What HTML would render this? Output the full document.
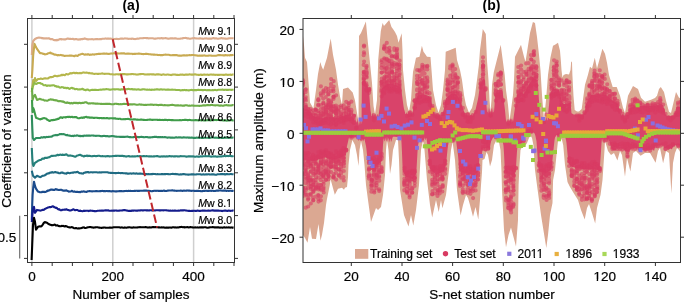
<!DOCTYPE html>
<html><head><meta charset="utf-8"><style>
html,body{margin:0;padding:0;background:#fff;}
svg{display:block;font-family:"Liberation Sans",sans-serif;will-change:transform;} text{stroke:#000;stroke-width:0.2px;} text[font-weight=bold]{stroke:none;}
</style></head><body>
<svg width="685" height="302" viewBox="0 0 685 302" font-family="Liberation Sans, sans-serif" fill="#000">
<line x1="31.9" y1="18.5" x2="31.9" y2="262.5" stroke="#cfcfcf" stroke-width="1.5"/>
<line x1="112.8" y1="18.5" x2="112.8" y2="262.5" stroke="#cfcfcf" stroke-width="1.5"/>
<line x1="193.6" y1="18.5" x2="193.6" y2="262.5" stroke="#cfcfcf" stroke-width="1.5"/>
<polyline points="31.8,55 32.3,45 33.2,41 35,39 37,38 39,37.5 40,37.7 40.8,37.7 41.6,38.2 42.4,38.1 43.2,38.4 44,38.4 44.8,38.2 45.6,38.5 46.4,38.3 47.2,38.5 48,38.4 48.8,38.3 49.6,38.6 50.4,39.3 51.2,39 52,39 52.8,39.4 53.6,40 54.4,40.1 55.2,40 56,40.4 56.8,39.8 57.6,40.2 58.4,39.8 59.2,39.4 60,39.1 60.8,39 61.6,39.5 62.4,39.2 63.2,39.3 64,39.5 64.8,39.3 65.6,39.4 66.4,39 67.2,38.6 68,38.5 68.8,38.9 69.6,38.9 70.4,38.8 71.2,39 72,39 72.8,38.8 73.6,39.2 74.4,39.4 75.2,39 76,39.1 76.8,39.1 77.6,39.5 78.4,39.6 79.2,39.2 80,39.6 80.8,39.1 81.6,39 82.4,39.2 83.2,38.8 84,38.9 84.8,38.4 85.6,38.7 86.4,39.1 87.2,39.1 88,39.5 88.8,39.2 89.6,39.3 90.4,39.3 91.2,39.2 92,39.1 92.8,39.2 93.6,39.4 94.4,39.2 95.2,39.2 96,39 96.8,39.1 97.6,39.1 98.4,39.3 99.2,39.3 100,39.1 100.8,39 101.6,39.1 102.4,38.8 103.2,38.8 104,38.7 104.8,38.6 105.6,38.4 106.4,38.7 107.2,38.6 108,38.5 108.8,38.6 109.6,38.8 110.4,38.6 111.2,38.7 112,38.7 112.8,38.9 113.6,39 114.4,39.1 115.2,39 116,38.9 116.8,38.8 117.6,39 118.4,39.1 119.2,38.9 120,38.7 120.8,38.6 121.6,38.5 122.4,38.6 123.2,38.7 124,38.6 124.8,38.4 125.6,38.5 126.4,38.5 127.2,38.6 128,38.8 128.8,38.9 129.6,38.8 130.4,38.8 131.2,38.9 132,38.6 132.8,38.8 133.6,38.9 134.4,39 135.2,39.1 136,38.9 136.8,38.8 137.6,38.6 138.4,38.7 139.2,38.5 140,38.3 140.8,38.3 141.6,38.2 142.4,38.2 143.2,38.1 144,38 144.8,38 145.6,38 146.4,38.1 147.2,38 148,38.3 148.8,38.4 149.6,38.3 150.4,38.2 151.2,38.3 152,38.3 152.8,38.2 153.6,38.4 154.4,38.7 155.2,38.6 156,38.6 156.8,38.4 157.6,38.2 158.4,38.2 159.2,38.2 160,38.4 160.8,38.3 161.6,38.1 162.4,38.4 163.2,38.4 164,38.3 164.8,38.3 165.6,38.1 166.4,38.2 167.2,38.5 168,38.6 168.8,38.7 169.6,38.5 170.4,38.4 171.2,38.3 172,38.4 172.8,38.4 173.6,38.5 174.4,38.4 175.2,38.3 176,38.4 176.8,38.6 177.6,38.7 178.4,38.7 179.2,38.8 180,38.8 180.8,38.5 181.6,38.5 182.4,38.4 183.2,38.1 184,38 184.8,38 185.6,37.9 186.4,38.1 187.2,38.4 188,38.3 188.8,38.5 189.6,38.7 190.4,38.8 191.2,38.6 192,38.4 192.8,38.3 193.6,38.2 194.4,38.1 195.2,38.2 196,38.4 196.8,38.5 197.6,38.5 198.4,38.5 199.2,38.6 200,38.3 200.8,38.4 201.6,38.6 202.4,38.6 203.2,38.7 204,38.6 204.8,38.4 205.6,38.5 206.4,38.4 207.2,38.5 208,38.7 208.8,38.6 209.6,38.5 210.4,38.6 211.2,38.7 212,38.4 212.8,38.3 213.6,38.1 214.4,38.4 215.2,38.5 216,38.3 216.8,38.5 217.6,38.7 218.4,38.7 219.2,38.5 220,38.5 220.8,38.3 221.6,38.1 222.4,38.4 223.2,38.5 224,38.4 224.8,38.6 225.6,38.5 226.4,38.7 227.2,38.7 228,38.5 228.8,38.4 229.6,38.3 230.4,38.2 231.2,38.3 232,38.2 232.8,38.2 233.6,38.1" fill="none" stroke="#dcab8c" stroke-width="2.1" stroke-linejoin="round"/>
<polyline points="31.8,78 32.4,70 33.2,55 34.5,43.9 35.5,46 37,48.9 40,53.2 40.8,53.1 41.6,53.2 42.4,53.4 43.2,54 44,53.9 44.8,54.4 45.6,54.2 46.4,54.1 47.2,53.9 48,53.3 48.8,53.3 49.6,52.9 50.4,52.6 51.2,53.4 52,53.4 52.8,53.7 53.6,54.3 54.4,54.6 55.2,54.6 56,54.8 56.8,55 57.6,55.4 58.4,55 59.2,55.2 60,55.1 60.8,54.9 61.6,55.3 62.4,55.4 63.2,55.4 64,55.7 64.8,56 65.6,55.8 66.4,55.8 67.2,55.7 68,55.7 68.8,55.8 69.6,55.6 70.4,55.6 71.2,55.5 72,55.8 72.8,55.8 73.6,56 74.4,56.2 75.2,55.6 76,55.5 76.8,55.8 77.6,55.9 78.4,55.2 79.2,54.7 80,54.7 80.8,54.2 81.6,54 82.4,53.7 83.2,54.1 84,54.4 84.8,54.8 85.6,54.3 86.4,54.5 87.2,54.6 88,54.1 88.8,54.5 89.6,54.9 90.4,54.6 91.2,54.7 92,54.5 92.8,54.4 93.6,54.5 94.4,54.6 95.2,54.3 96,54.2 96.8,54.1 97.6,54 98.4,53.9 99.2,53.8 100,53.9 100.8,53.7 101.6,53.8 102.4,53.8 103.2,53.6 104,53.5 104.8,53.6 105.6,53.7 106.4,53.5 107.2,53.8 108,53.9 108.8,54 109.6,53.7 110.4,53.6 111.2,53.4 112,53.6 112.8,53.5 113.6,53.3 114.4,53.3 115.2,53.5 116,53.7 116.8,53.5 117.6,53.3 118.4,53.5 119.2,53.5 120,53.5 120.8,53.4 121.6,53.2 122.4,53.4 123.2,53.4 124,53.3 124.8,53.6 125.6,53.7 126.4,53.8 127.2,53.6 128,53.8 128.8,53.6 129.6,53.8 130.4,53.8 131.2,53.8 132,53.8 132.8,54.1 133.6,53.9 134.4,53.8 135.2,53.9 136,53.8 136.8,53.7 137.6,53.7 138.4,53.6 139.2,53.6 140,53.7 140.8,53.7 141.6,54 142.4,54 143.2,54.1 144,54 144.8,54 145.6,53.9 146.4,53.9 147.2,53.9 148,54.1 148.8,54.3 149.6,54.2 150.4,54.3 151.2,54.6 152,54.4 152.8,54.6 153.6,54.6 154.4,54.6 155.2,54.8 156,54.7 156.8,54.8 157.6,54.9 158.4,55.1 159.2,54.9 160,55.1 160.8,55.1 161.6,55.1 162.4,55.1 163.2,55 164,54.8 164.8,54.7 165.6,54.6 166.4,54.8 167.2,54.8 168,54.7 168.8,54.7 169.6,54.9 170.4,55.2 171.2,55.3 172,55.2 172.8,55.1 173.6,55.1 174.4,55.1 175.2,55 176,55.1 176.8,55.1 177.6,55.4 178.4,55.6 179.2,55.6 180,55.5 180.8,55.7 181.6,55.6 182.4,55.5 183.2,55.3 184,55.4 184.8,55.4 185.6,55.5 186.4,55.4 187.2,55.4 188,55.2 188.8,55.2 189.6,55.1 190.4,55.2 191.2,55.1 192,55 192.8,55 193.6,55 194.4,55.2 195.2,55.3 196,55.4 196.8,55.5 197.6,55.6 198.4,55.7 199.2,55.6 200,55.5 200.8,55.7 201.6,55.5 202.4,55.6 203.2,55.6 204,55.4 204.8,55.5 205.6,55.7 206.4,55.7 207.2,55.7 208,55.8 208.8,55.5 209.6,55.5 210.4,55.5 211.2,55.6 212,55.7 212.8,55.7 213.6,55.7 214.4,55.8 215.2,55.7 216,55.7 216.8,55.5 217.6,55.2 218.4,55.1 219.2,55.1 220,55 220.8,55.2 221.6,55.2 222.4,55.3 223.2,55.4 224,55.4 224.8,55.4 225.6,55.1 226.4,55.3 227.2,55.4 228,55.3 228.8,55.3 229.6,55.4 230.4,55.1 231.2,55.3 232,55.1 232.8,55 233.6,54.9" fill="none" stroke="#c8aa52" stroke-width="2.1" stroke-linejoin="round"/>
<polyline points="31.8,92 32.5,86 33.2,80 34,82 35,78 36,81 38,79 40,78.9 40.8,78.5 41.6,78.7 42.4,79 43.2,78.8 44,78.5 44.8,78.4 45.6,78.4 46.4,78.5 47.2,78.5 48,78.4 48.8,77.8 49.6,77.4 50.4,77.1 51.2,77.3 52,77 52.8,77 53.6,76.4 54.4,75.9 55.2,75.8 56,76 56.8,76.2 57.6,76.2 58.4,75.8 59.2,75.7 60,75.6 60.8,75.4 61.6,74.8 62.4,75.2 63.2,74.7 64,75 64.8,75.2 65.6,74.4 66.4,74.1 67.2,74.3 68,74.5 68.8,74.1 69.6,73.5 70.4,73.1 71.2,73.5 72,73.1 72.8,73.2 73.6,72.7 74.4,72.8 75.2,73.3 76,72.8 76.8,73.1 77.6,73 78.4,73.3 79.2,73.3 80,72.9 80.8,73.3 81.6,73.2 82.4,72.7 83.2,72.4 84,72.6 84.8,72.8 85.6,72.8 86.4,72.6 87.2,72.7 88,72.8 88.8,73.3 89.6,72.9 90.4,73.2 91.2,73.4 92,73.3 92.8,73.6 93.6,73.7 94.4,73.9 95.2,73.7 96,73.7 96.8,73.7 97.6,73.9 98.4,73.9 99.2,73.8 100,73.8 100.8,73.7 101.6,73.5 102.4,73.4 103.2,73.7 104,73.7 104.8,73.9 105.6,73.8 106.4,73.7 107.2,73.8 108,73.7 108.8,73.7 109.6,74 110.4,74.2 111.2,74.3 112,74.3 112.8,74.4 113.6,74.5 114.4,74.5 115.2,74.5 116,74.2 116.8,74.3 117.6,74.3 118.4,74.4 119.2,74.4 120,74.3 120.8,74.1 121.6,74.3 122.4,74.1 123.2,74.1 124,74.1 124.8,74.1 125.6,74.2 126.4,74.4 127.2,74.3 128,74.4 128.8,74.3 129.6,74.3 130.4,74.3 131.2,74.1 132,74 132.8,74 133.6,74.3 134.4,74.3 135.2,74.2 136,74.4 136.8,74.6 137.6,74.5 138.4,74.4 139.2,74.2 140,74.1 140.8,74.1 141.6,74 142.4,74 143.2,74 144,74.2 144.8,74.4 145.6,74.5 146.4,74.5 147.2,74.4 148,74.5 148.8,74.4 149.6,74.4 150.4,74.2 151.2,74.2 152,74.5 152.8,74.3 153.6,74.4 154.4,74.5 155.2,74.7 156,74.5 156.8,74.4 157.6,74.3 158.4,74.4 159.2,74.4 160,74.6 160.8,74.8 161.6,74.9 162.4,74.6 163.2,74.4 164,74.5 164.8,74.7 165.6,74.7 166.4,74.7 167.2,74.5 168,74.5 168.8,74.7 169.6,74.8 170.4,74.9 171.2,75.1 172,74.8 172.8,74.6 173.6,74.5 174.4,74.5 175.2,74.6 176,74.8 176.8,74.9 177.6,74.9 178.4,75 179.2,74.9 180,74.8 180.8,74.6 181.6,74.8 182.4,74.6 183.2,74.8 184,74.9 184.8,74.7 185.6,74.6 186.4,74.5 187.2,74.6 188,74.7 188.8,74.5 189.6,74.4 190.4,74.5 191.2,74.6 192,74.6 192.8,74.5 193.6,74.6 194.4,74.4 195.2,74.4 196,74.5 196.8,74.7 197.6,74.8 198.4,74.9 199.2,74.9 200,74.7 200.8,74.6 201.6,74.9 202.4,74.9 203.2,74.8 204,74.6 204.8,74.6 205.6,74.7 206.4,74.7 207.2,74.6 208,74.7 208.8,74.9 209.6,74.8 210.4,74.5 211.2,74.5 212,74.6 212.8,74.7 213.6,74.6 214.4,74.8 215.2,74.9 216,74.8 216.8,74.7 217.6,74.9 218.4,74.8 219.2,74.9 220,74.8 220.8,74.7 221.6,74.8 222.4,74.7 223.2,74.9 224,74.9 224.8,74.7 225.6,74.6 226.4,74.6 227.2,74.7 228,74.9 228.8,74.8 229.6,74.7 230.4,74.6 231.2,74.9 232,74.7 232.8,74.5 233.6,74.4" fill="none" stroke="#b6b64c" stroke-width="2.1" stroke-linejoin="round"/>
<polyline points="32,90 33,86 34.5,82.7 36,84 38,83 40,83 40.8,83.5 41.6,83.8 42.4,84.1 43.2,84.8 44,85.3 44.8,85.2 45.6,85.1 46.4,85.7 47.2,85.9 48,85.4 48.8,85.6 49.6,85.6 50.4,85.6 51.2,85.5 52,85.4 52.8,85.2 53.6,85.3 54.4,85.5 55.2,86.3 56,86.1 56.8,86.8 57.6,86.6 58.4,86.6 59.2,87.2 60,87.6 60.8,87.5 61.6,87.1 62.4,87.3 63.2,87.3 64,88 64.8,87.7 65.6,87.7 66.4,88.3 67.2,87.9 68,88 68.8,88.5 69.6,88.9 70.4,88.4 71.2,88 72,87.8 72.8,88.5 73.6,88.4 74.4,88.8 75.2,89.3 76,89.1 76.8,88.9 77.6,89.4 78.4,89.5 79.2,89.3 80,89.5 80.8,89.3 81.6,89.2 82.4,88.8 83.2,89.2 84,89.8 84.8,89.9 85.6,90.3 86.4,89.7 87.2,89.5 88,89.6 88.8,90.1 89.6,90.5 90.4,90.2 91.2,90 92,89.9 92.8,89.8 93.6,90 94.4,89.8 95.2,89.9 96,89.9 96.8,90 97.6,90 98.4,90 99.2,89.8 100,89.7 100.8,89.6 101.6,89.7 102.4,89.5 103.2,89.4 104,89.5 104.8,89.4 105.6,89.2 106.4,89.1 107.2,89.2 108,89.2 108.8,89.5 109.6,89.6 110.4,89.8 111.2,89.6 112,89.4 112.8,89.2 113.6,89.3 114.4,89.4 115.2,89.4 116,89.2 116.8,89.2 117.6,89.3 118.4,89.4 119.2,89.5 120,89.6 120.8,89.6 121.6,89.3 122.4,89.5 123.2,89.3 124,89.3 124.8,89.3 125.6,89.4 126.4,89.2 127.2,89.1 128,89 128.8,88.9 129.6,89.1 130.4,89.2 131.2,89.1 132,89.1 132.8,89.4 133.6,89.4 134.4,89.2 135.2,89.4 136,89.5 136.8,89.6 137.6,89.4 138.4,89.4 139.2,89.5 140,89.7 140.8,89.8 141.6,89.5 142.4,89.4 143.2,89.3 144,89.2 144.8,89.5 145.6,89.5 146.4,89.7 147.2,89.6 148,89.8 148.8,89.7 149.6,89.6 150.4,89.7 151.2,89.9 152,89.6 152.8,89.7 153.6,89.7 154.4,89.6 155.2,89.6 156,89.4 156.8,89.4 157.6,89.4 158.4,89.5 159.2,89.6 160,89.5 160.8,89.4 161.6,89.4 162.4,89.6 163.2,89.5 164,89.5 164.8,89.5 165.6,89.7 166.4,89.8 167.2,89.6 168,89.5 168.8,89.6 169.6,89.7 170.4,89.8 171.2,89.7 172,89.6 172.8,89.8 173.6,89.8 174.4,89.8 175.2,89.8 176,90 176.8,90 177.6,90 178.4,90 179.2,90 180,90.2 180.8,90.4 181.6,90.3 182.4,90.1 183.2,90.3 184,90.1 184.8,89.9 185.6,90.2 186.4,90.1 187.2,90.3 188,90.2 188.8,90.4 189.6,90.3 190.4,90.1 191.2,89.9 192,90 192.8,90.1 193.6,90.3 194.4,90 195.2,90.1 196,90 196.8,90.1 197.6,89.9 198.4,89.9 199.2,89.9 200,90.1 200.8,89.9 201.6,90 202.4,90.1 203.2,90.3 204,90.1 204.8,89.9 205.6,90.1 206.4,90.3 207.2,90.2 208,90 208.8,90.2 209.6,90.1 210.4,90.2 211.2,90.2 212,90.3 212.8,90.1 213.6,90.2 214.4,90 215.2,89.9 216,90.1 216.8,90.2 217.6,90 218.4,89.8 219.2,89.8 220,89.8 220.8,89.8 221.6,89.7 222.4,89.6 223.2,89.8 224,90 224.8,89.7 225.6,89.8 226.4,89.9 227.2,89.7 228,89.9 228.8,89.7 229.6,89.8 230.4,89.8 231.2,89.9 232,89.8 232.8,89.7 233.6,89.8" fill="none" stroke="#92ba4a" stroke-width="2.1" stroke-linejoin="round"/>
<polyline points="32,88 32.6,100 33.5,97 35,94.9 37,99.9 40,98.8 40.8,99.3 41.6,99.6 42.4,99.8 43.2,99.7 44,100.2 44.8,100.6 45.6,100.4 46.4,100.6 47.2,100.7 48,100.4 48.8,99.9 49.6,99.8 50.4,99.4 51.2,99.4 52,99.7 52.8,99.6 53.6,99.9 54.4,100.2 55.2,100.1 56,100.5 56.8,100.3 57.6,100.8 58.4,101.2 59.2,101.3 60,101 60.8,101.2 61.6,101.2 62.4,101.8 63.2,101.5 64,102 64.8,102.5 65.6,102.7 66.4,102.9 67.2,102.4 68,102.9 68.8,102.8 69.6,103.2 70.4,103.4 71.2,102.9 72,103.2 72.8,103.5 73.6,102.9 74.4,102.8 75.2,103.1 76,102.7 76.8,103.2 77.6,102.9 78.4,103.2 79.2,102.8 80,102.9 80.8,103.3 81.6,103 82.4,102.8 83.2,102.9 84,102.8 84.8,102.4 85.6,102.3 86.4,102.2 87.2,102.9 88,103.2 88.8,103.6 89.6,103.2 90.4,103.4 91.2,103.2 92,103.3 92.8,103.4 93.6,103.3 94.4,103.5 95.2,103.6 96,103.6 96.8,103.8 97.6,103.6 98.4,103.8 99.2,103.8 100,103.7 100.8,103.9 101.6,103.7 102.4,104 103.2,104 104,103.9 104.8,104 105.6,103.9 106.4,103.8 107.2,103.9 108,103.7 108.8,103.9 109.6,103.9 110.4,104 111.2,104.2 112,104.2 112.8,104.3 113.6,104.2 114.4,103.9 115.2,103.8 116,103.8 116.8,103.9 117.6,104 118.4,104.1 119.2,104.3 120,104.2 120.8,104.1 121.6,104.2 122.4,104.1 123.2,103.9 124,104 124.8,103.9 125.6,104 126.4,104 127.2,104.1 128,104.3 128.8,104.2 129.6,104.3 130.4,104.4 131.2,104.3 132,104.5 132.8,104.4 133.6,104.3 134.4,104.2 135.2,104.4 136,104.6 136.8,104.7 137.6,104.7 138.4,104.6 139.2,104.4 140,104.5 140.8,104.6 141.6,104.6 142.4,104.7 143.2,104.7 144,104.9 144.8,105 145.6,104.8 146.4,105 147.2,104.8 148,104.8 148.8,104.8 149.6,104.7 150.4,104.6 151.2,104.8 152,104.6 152.8,104.7 153.6,105 154.4,104.8 155.2,104.7 156,104.8 156.8,104.9 157.6,105 158.4,105.1 159.2,105 160,104.9 160.8,104.9 161.6,104.7 162.4,105 163.2,105.2 164,105.3 164.8,105 165.6,105.2 166.4,105.3 167.2,105.3 168,105.4 168.8,105.3 169.6,105.2 170.4,105 171.2,105 172,104.9 172.8,104.9 173.6,105.1 174.4,105.3 175.2,105.4 176,105.5 176.8,105.4 177.6,105.4 178.4,105.4 179.2,105.5 180,105.5 180.8,105.4 181.6,105.5 182.4,105.7 183.2,105.5 184,105.7 184.8,105.4 185.6,105.3 186.4,105.3 187.2,105.4 188,105.6 188.8,105.7 189.6,105.6 190.4,105.7 191.2,105.6 192,105.4 192.8,105.6 193.6,105.6 194.4,105.7 195.2,105.7 196,105.8 196.8,105.7 197.6,105.8 198.4,105.8 199.2,105.9 200,105.7 200.8,105.8 201.6,105.7 202.4,105.5 203.2,105.4 204,105.4 204.8,105.3 205.6,105.5 206.4,105.3 207.2,105.1 208,105 208.8,105.3 209.6,105.3 210.4,105.1 211.2,105 212,104.9 212.8,105.1 213.6,105.2 214.4,105.3 215.2,105.5 216,105.2 216.8,105.3 217.6,105.3 218.4,105.4 219.2,105.5 220,105.7 220.8,105.4 221.6,105.5 222.4,105.7 223.2,105.8 224,105.5 224.8,105.3 225.6,105.2 226.4,105 227.2,105.2 228,105.4 228.8,105.4 229.6,105.5 230.4,105.5 231.2,105.4 232,105.2 232.8,105 233.6,105.2" fill="none" stroke="#6cac48" stroke-width="2.1" stroke-linejoin="round"/>
<polyline points="32,100 32.5,112 33.2,108 34,110 36,117.8 40,119.4 40.8,119.1 41.6,119 42.4,118.5 43.2,118.2 44,118.1 44.8,118.3 45.6,118.5 46.4,118.8 47.2,119.7 48,120 48.8,120.6 49.6,121 50.4,120.5 51.2,120.3 52,120.1 52.8,120.3 53.6,119.9 54.4,120 55.2,119.8 56,119.3 56.8,119.4 57.6,118.8 58.4,118.9 59.2,118.3 60,117.7 60.8,117.3 61.6,117.6 62.4,118 63.2,117.3 64,117.3 64.8,117.3 65.6,117.5 66.4,117 67.2,117 68,116.8 68.8,117.1 69.6,116.7 70.4,117.2 71.2,117 72,116.8 72.8,117.2 73.6,117.3 74.4,117 75.2,117.3 76,117 76.8,117.5 77.6,117.9 78.4,118.2 79.2,118.2 80,117.9 80.8,117.7 81.6,117.6 82.4,117.9 83.2,117.4 84,117.8 84.8,117.2 85.6,117 86.4,116.8 87.2,117.4 88,117.4 88.8,117.3 89.6,117.7 90.4,117.6 91.2,117.6 92,117.6 92.8,117.8 93.6,117.9 94.4,117.9 95.2,117.8 96,117.8 96.8,117.7 97.6,117.9 98.4,118 99.2,118.1 100,118 100.8,118 101.6,118.1 102.4,118.2 103.2,118 104,118.1 104.8,118.3 105.6,118.2 106.4,118.1 107.2,118.1 108,118.3 108.8,118.5 109.6,118.4 110.4,118.3 111.2,118.2 112,118.3 112.8,118.4 113.6,118.3 114.4,118.4 115.2,118.3 116,118.7 116.8,118.8 117.6,118.7 118.4,119 119.2,118.8 120,118.8 120.8,119.1 121.6,119.2 122.4,119.3 123.2,119.2 124,119.1 124.8,119.2 125.6,119.1 126.4,119 127.2,119 128,118.9 128.8,119 129.6,119.3 130.4,119.4 131.2,119.4 132,119.5 132.8,119.5 133.6,119.3 134.4,119.4 135.2,119.4 136,119.5 136.8,119.7 137.6,119.6 138.4,119.7 139.2,119.7 140,119.7 140.8,119.5 141.6,119.6 142.4,119.8 143.2,119.9 144,119.9 144.8,120 145.6,120 146.4,120 147.2,119.9 148,119.8 148.8,119.8 149.6,119.6 150.4,119.6 151.2,119.8 152,119.9 152.8,119.9 153.6,119.8 154.4,119.7 155.2,119.7 156,119.8 156.8,119.8 157.6,119.9 158.4,120 159.2,119.9 160,119.9 160.8,120 161.6,120 162.4,119.9 163.2,120.1 164,119.9 164.8,119.9 165.6,119.8 166.4,119.9 167.2,120.1 168,120.1 168.8,119.9 169.6,120 170.4,120 171.2,120.1 172,120.1 172.8,120.1 173.6,120.3 174.4,120.2 175.2,120.2 176,120.3 176.8,120.2 177.6,120.2 178.4,120.2 179.2,120.3 180,120.1 180.8,120.3 181.6,120.2 182.4,120 183.2,120 184,120 184.8,119.8 185.6,119.9 186.4,119.9 187.2,120.1 188,120.1 188.8,120 189.6,119.9 190.4,120.1 191.2,120.3 192,120.3 192.8,120.2 193.6,120.3 194.4,120.2 195.2,120.1 196,120 196.8,120.2 197.6,120.3 198.4,120.4 199.2,120.3 200,120.3 200.8,120.2 201.6,120.4 202.4,120.3 203.2,120.3 204,120.5 204.8,120.5 205.6,120.5 206.4,120.3 207.2,120.3 208,120.1 208.8,120.3 209.6,120.2 210.4,120.4 211.2,120.3 212,120.2 212.8,120.1 213.6,120.1 214.4,120 215.2,119.9 216,120.1 216.8,120 217.6,120 218.4,120 219.2,120 220,120.1 220.8,120.2 221.6,120.3 222.4,120.2 223.2,120.4 224,120.5 224.8,120.3 225.6,120.4 226.4,120.6 227.2,120.6 228,120.4 228.8,120.5 229.6,120.5 230.4,120.2 231.2,120 232,120.3 232.8,120.4 233.6,120.2" fill="none" stroke="#3f9c4a" stroke-width="2.1" stroke-linejoin="round"/>
<polyline points="31.8,115 32.3,128 32.8,138 34,140 36,138 40,138 40.8,137.6 41.6,137.3 42.4,137.6 43.2,137.4 44,137 44.8,137.4 45.6,137.5 46.4,136.9 47.2,137.1 48,136.9 48.8,136.9 49.6,136.7 50.4,136.7 51.2,136.6 52,136.5 52.8,135.7 53.6,135.5 54.4,135.2 55.2,135.2 56,134.9 56.8,135.2 57.6,135.1 58.4,134.7 59.2,134.4 60,134 60.8,134.2 61.6,134 62.4,134.2 63.2,134.1 64,134.3 64.8,134.6 65.6,134.8 66.4,135.3 67.2,134.9 68,135.4 68.8,135.5 69.6,135.6 70.4,135.8 71.2,136.1 72,135.9 72.8,135.7 73.6,136.1 74.4,135.6 75.2,135.7 76,135.8 76.8,135.3 77.6,135.5 78.4,135.7 79.2,136.1 80,135.8 80.8,136.2 81.6,136 82.4,135.9 83.2,136.2 84,135.5 84.8,135.7 85.6,135.8 86.4,135.5 87.2,135.8 88,135.6 88.8,135.5 89.6,135.6 90.4,135.7 91.2,135.5 92,135.5 92.8,135.5 93.6,135.6 94.4,135.8 95.2,135.7 96,135.9 96.8,135.8 97.6,135.8 98.4,135.7 99.2,135.8 100,136 100.8,136.1 101.6,136.2 102.4,136.1 103.2,136 104,135.9 104.8,136 105.6,136.1 106.4,136.3 107.2,136 108,136.2 108.8,136.4 109.6,136.4 110.4,136.2 111.2,136.1 112,136 112.8,136 113.6,136.3 114.4,136.4 115.2,136.5 116,136.6 116.8,136.8 117.6,136.8 118.4,136.8 119.2,136.8 120,136.9 120.8,136.9 121.6,136.9 122.4,136.8 123.2,136.9 124,136.8 124.8,137 125.6,136.8 126.4,136.7 127.2,136.6 128,136.8 128.8,137 129.6,137.1 130.4,137 131.2,137.2 132,137.3 132.8,137.2 133.6,137.1 134.4,137 135.2,137 136,136.9 136.8,136.9 137.6,137 138.4,137.3 139.2,137 140,137.1 140.8,136.9 141.6,136.8 142.4,137 143.2,137.1 144,137.3 144.8,137.2 145.6,137 146.4,137 147.2,137.1 148,137.3 148.8,137.5 149.6,137.4 150.4,137.4 151.2,137.2 152,137.2 152.8,137.1 153.6,137 154.4,136.9 155.2,136.8 156,137 156.8,136.9 157.6,137.2 158.4,137.1 159.2,137.3 160,137.1 160.8,137 161.6,137.2 162.4,137.1 163.2,137.3 164,137.2 164.8,137 165.6,137.3 166.4,137.4 167.2,137.6 168,137.6 168.8,137.4 169.6,137.5 170.4,137.6 171.2,137.5 172,137.7 172.8,137.5 173.6,137.7 174.4,137.8 175.2,137.5 176,137.3 176.8,137.4 177.6,137.6 178.4,137.4 179.2,137.4 180,137.5 180.8,137.4 181.6,137.6 182.4,137.6 183.2,137.4 184,137.4 184.8,137.5 185.6,137.5 186.4,137.6 187.2,137.4 188,137.6 188.8,137.5 189.6,137.6 190.4,137.7 191.2,137.6 192,137.6 192.8,137.7 193.6,137.9 194.4,137.9 195.2,137.9 196,137.7 196.8,137.5 197.6,137.7 198.4,137.8 199.2,137.9 200,137.7 200.8,137.8 201.6,137.9 202.4,138 203.2,137.9 204,137.8 204.8,137.7 205.6,137.8 206.4,137.7 207.2,137.8 208,137.8 208.8,137.9 209.6,138 210.4,137.8 211.2,137.5 212,137.4 212.8,137.4 213.6,137.5 214.4,137.7 215.2,137.8 216,137.6 216.8,137.7 217.6,137.8 218.4,137.9 219.2,137.9 220,137.7 220.8,137.8 221.6,137.9 222.4,137.9 223.2,138 224,137.8 224.8,137.6 225.6,137.6 226.4,137.8 227.2,137.6 228,137.7 228.8,137.9 229.6,137.7 230.4,137.7 231.2,137.8 232,137.7 232.8,137.5 233.6,137.5" fill="none" stroke="#2f8e5e" stroke-width="2.1" stroke-linejoin="round"/>
<polyline points="31.8,148 32.3,158 32.8,164 33.4,166 35,162.8 38,160.8 40,160.1 40.8,159.9 41.6,159.3 42.4,158.5 43.2,158.6 44,158.6 44.8,157.9 45.6,157.8 46.4,157.9 47.2,157.9 48,157.5 48.8,157.2 49.6,157.1 50.4,156.5 51.2,156.1 52,155.8 52.8,156 53.6,155.8 54.4,155.8 55.2,155.7 56,155.6 56.8,155.2 57.6,154.7 58.4,155.3 59.2,155.1 60,154.6 60.8,154.8 61.6,155 62.4,154.6 63.2,154.9 64,154.8 64.8,154.9 65.6,154.6 66.4,154.3 67.2,155.1 68,155.6 68.8,155.6 69.6,155.6 70.4,155.4 71.2,155.7 72,155.7 72.8,156.1 73.6,156.3 74.4,156.5 75.2,156.8 76,156.3 76.8,155.7 77.6,155.5 78.4,155.3 79.2,155 80,154.8 80.8,155.1 81.6,155.7 82.4,155.7 83.2,156.2 84,156.5 84.8,155.9 85.6,156 86.4,155.9 87.2,155.5 88,156.1 88.8,155.8 89.6,155.9 90.4,156 91.2,156.2 92,156.2 92.8,156.1 93.6,156 94.4,155.9 95.2,156.1 96,156.3 96.8,156.1 97.6,155.9 98.4,155.8 99.2,155.8 100,156 100.8,156.2 101.6,156.3 102.4,156.1 103.2,156.2 104,156.3 104.8,156.3 105.6,156.4 106.4,156.2 107.2,156 108,156.1 108.8,156.3 109.6,156.4 110.4,156.2 111.2,156.2 112,156.3 112.8,156.1 113.6,156 114.4,156 115.2,155.9 116,155.9 116.8,155.9 117.6,155.8 118.4,155.8 119.2,156 120,155.8 120.8,156 121.6,155.9 122.4,155.8 123.2,156.1 124,156 124.8,156.3 125.6,156.4 126.4,156.6 127.2,156.3 128,156.3 128.8,156.1 129.6,156.4 130.4,156.5 131.2,156.5 132,156.4 132.8,156.3 133.6,156.5 134.4,156.4 135.2,156.5 136,156.3 136.8,156.2 137.6,156 138.4,156.2 139.2,156.3 140,156.1 140.8,156.3 141.6,156.2 142.4,156.2 143.2,156.1 144,156.1 144.8,156.3 145.6,156.2 146.4,156.1 147.2,156.2 148,156.2 148.8,156.4 149.6,156.2 150.4,156.5 151.2,156.3 152,156.5 152.8,156.5 153.6,156.4 154.4,156.4 155.2,156.3 156,156.2 156.8,156.1 157.6,156.1 158.4,156.4 159.2,156.6 160,156.8 160.8,156.5 161.6,156.4 162.4,156.6 163.2,156.3 164,156.5 164.8,156.4 165.6,156.6 166.4,156.3 167.2,156.5 168,156.4 168.8,156.3 169.6,156.1 170.4,156.3 171.2,156.4 172,156.3 172.8,156.3 173.6,156.5 174.4,156.4 175.2,156.4 176,156.3 176.8,156.2 177.6,156.4 178.4,156.5 179.2,156.4 180,156.2 180.8,156.1 181.6,156.2 182.4,156.3 183.2,156.3 184,156.2 184.8,156.3 185.6,156.5 186.4,156.6 187.2,156.6 188,156.4 188.8,156.3 189.6,156.4 190.4,156.4 191.2,156.5 192,156.3 192.8,156.5 193.6,156.4 194.4,156.6 195.2,156.7 196,156.6 196.8,156.4 197.6,156.6 198.4,156.5 199.2,156.7 200,156.5 200.8,156.3 201.6,156.5 202.4,156.4 203.2,156.3 204,156.3 204.8,156.3 205.6,156.1 206.4,156.2 207.2,156.2 208,156.3 208.8,156.1 209.6,156.3 210.4,156.5 211.2,156.6 212,156.5 212.8,156.5 213.6,156.4 214.4,156.5 215.2,156.3 216,156.5 216.8,156.7 217.6,156.6 218.4,156.5 219.2,156.5 220,156.5 220.8,156.2 221.6,156.5 222.4,156.3 223.2,156.2 224,156 224.8,156 225.6,156.2 226.4,156 227.2,155.9 228,156.1 228.8,156 229.6,155.9 230.4,156 231.2,156.1 232,156.2 232.8,156.3 233.6,156.1" fill="none" stroke="#26807a" stroke-width="2.1" stroke-linejoin="round"/>
<polyline points="31.8,170.8 33,175.7 35,177.7 37,175.7 40,177.1 40.8,177 41.6,176.3 42.4,175.8 43.2,175.7 44,175.6 44.8,175.3 45.6,174.7 46.4,174.3 47.2,173.6 48,173.4 48.8,173.5 49.6,172.7 50.4,172.5 51.2,172.6 52,172.1 52.8,172.4 53.6,172.6 54.4,172.2 55.2,172 56,172.4 56.8,172.5 57.6,172.5 58.4,173 59.2,173.3 60,173.2 60.8,172.8 61.6,172.6 62.4,172.5 63.2,173 64,173.2 64.8,173.4 65.6,173.5 66.4,173.6 67.2,172.9 68,172.8 68.8,173.1 69.6,173.3 70.4,172.9 71.2,172.7 72,172.8 72.8,172.6 73.6,172.7 74.4,172.2 75.2,172.3 76,172.4 76.8,172 77.6,171.8 78.4,172.6 79.2,172.9 80,173.3 80.8,173.3 81.6,173.4 82.4,173.5 83.2,173.6 84,172.7 84.8,172.7 85.6,172.3 86.4,172.4 87.2,172 88,172 88.8,172.5 89.6,172.5 90.4,172.3 91.2,172.3 92,172.3 92.8,172.5 93.6,172.3 94.4,172.2 95.2,172.3 96,172.2 96.8,172.3 97.6,172.5 98.4,172.5 99.2,172.4 100,172.4 100.8,172.5 101.6,172.4 102.4,172.3 103.2,172.2 104,172.2 104.8,172.3 105.6,172.3 106.4,172.3 107.2,172.3 108,172.4 108.8,172.7 109.6,172.8 110.4,172.9 111.2,173 112,172.8 112.8,173 113.6,173 114.4,173 115.2,173.1 116,173.1 116.8,173 117.6,173 118.4,172.9 119.2,173 120,173 120.8,173.2 121.6,173 122.4,173 123.2,173.3 124,173.2 124.8,173.3 125.6,173.4 126.4,173.3 127.2,173.6 128,173.5 128.8,173.7 129.6,173.5 130.4,173.4 131.2,173.6 132,173.6 132.8,173.4 133.6,173.4 134.4,173.5 135.2,173.6 136,173.5 136.8,173.4 137.6,173.7 138.4,173.8 139.2,173.6 140,173.6 140.8,173.6 141.6,173.7 142.4,173.8 143.2,173.9 144,174 144.8,174 145.6,174.1 146.4,174.1 147.2,174.2 148,174.1 148.8,174.1 149.6,174.2 150.4,174.3 151.2,174 152,174.2 152.8,173.9 153.6,174 154.4,174 155.2,174 156,174.2 156.8,174.2 157.6,174.1 158.4,174.2 159.2,174.3 160,174.3 160.8,174.2 161.6,174.1 162.4,174.1 163.2,174.2 164,174.1 164.8,174 165.6,174.1 166.4,174 167.2,174 168,174.1 168.8,174.3 169.6,174.2 170.4,174.2 171.2,174 172,174 172.8,173.9 173.6,174 174.4,174.1 175.2,173.9 176,174.2 176.8,174.1 177.6,174.3 178.4,174.4 179.2,174.6 180,174.4 180.8,174.3 181.6,174.5 182.4,174.2 183.2,174 184,174.1 184.8,174.2 185.6,174.4 186.4,174.5 187.2,174.5 188,174.6 188.8,174.6 189.6,174.5 190.4,174.5 191.2,174.4 192,174.3 192.8,174.4 193.6,174.3 194.4,174.5 195.2,174.5 196,174.5 196.8,174.2 197.6,174.2 198.4,174.2 199.2,174.2 200,174.3 200.8,174.4 201.6,174.6 202.4,174.5 203.2,174.4 204,174.4 204.8,174.6 205.6,174.4 206.4,174.4 207.2,174.5 208,174.3 208.8,174.2 209.6,174.4 210.4,174.5 211.2,174.5 212,174.2 212.8,174.4 213.6,174.4 214.4,174.5 215.2,174.7 216,174.7 216.8,174.6 217.6,174.3 218.4,174.2 219.2,174.2 220,174.2 220.8,174.1 221.6,174 222.4,174.1 223.2,174.2 224,174.1 224.8,174.4 225.6,174.4 226.4,174.1 227.2,174.1 228,174.3 228.8,174.2 229.6,174.3 230.4,174 231.2,174 232,174.2 232.8,174.2 233.6,174.3" fill="none" stroke="#1f6a82" stroke-width="2.1" stroke-linejoin="round"/>
<polyline points="31.8,220 32.2,205 32.6,195 33.2,188 34,181.7 35,186 36,188.6 38,191.6 40,192.3 40.8,192.2 41.6,192.2 42.4,191.8 43.2,191.9 44,191.8 44.8,192.1 45.6,191.9 46.4,191.5 47.2,191 48,190.5 48.8,190.7 49.6,190.2 50.4,189.8 51.2,189.5 52,189.5 52.8,189.9 53.6,189.9 54.4,190 55.2,189.4 56,189.1 56.8,189.6 57.6,189.6 58.4,190 59.2,190 60,189.9 60.8,189.8 61.6,189.7 62.4,190.4 63.2,190.6 64,190.5 64.8,190.6 65.6,190.6 66.4,190.3 67.2,190.9 68,191.1 68.8,191.6 69.6,191.5 70.4,191.5 71.2,191.2 72,190.8 72.8,191.4 73.6,191.7 74.4,191.4 75.2,191.8 76,192 76.8,191.7 77.6,191.7 78.4,192.1 79.2,191.9 80,192.3 80.8,191.8 81.6,191.6 82.4,191.8 83.2,191.5 84,191.3 84.8,191.8 85.6,191.7 86.4,192 87.2,191.6 88,191.3 88.8,191.2 89.6,191 90.4,191.3 91.2,191.3 92,191.4 92.8,191.2 93.6,191.3 94.4,191.3 95.2,191.3 96,191.1 96.8,191.1 97.6,191.3 98.4,191.3 99.2,191.2 100,191.1 100.8,191.1 101.6,191 102.4,190.9 103.2,191.1 104,191.1 104.8,191 105.6,191.2 106.4,191 107.2,191 108,191.2 108.8,191.1 109.6,191.1 110.4,191.3 111.2,191.4 112,191.2 112.8,191.1 113.6,191.3 114.4,191.2 115.2,191.4 116,191.2 116.8,191.4 117.6,191.3 118.4,191.2 119.2,191.1 120,191 120.8,191.1 121.6,191 122.4,191.2 123.2,191.2 124,191.1 124.8,191 125.6,191 126.4,190.9 127.2,191.1 128,190.9 128.8,190.9 129.6,191 130.4,190.9 131.2,191 132,191 132.8,191 133.6,191 134.4,190.9 135.2,190.9 136,190.7 136.8,190.7 137.6,190.9 138.4,190.8 139.2,190.9 140,190.8 140.8,190.8 141.6,190.8 142.4,190.8 143.2,190.8 144,190.6 144.8,190.6 145.6,190.6 146.4,190.5 147.2,190.7 148,190.7 148.8,190.7 149.6,190.9 150.4,191 151.2,191.2 152,191.3 152.8,191 153.6,190.9 154.4,190.7 155.2,190.8 156,190.9 156.8,190.8 157.6,190.8 158.4,190.9 159.2,191 160,190.8 160.8,191 161.6,190.9 162.4,191 163.2,190.8 164,190.6 164.8,190.9 165.6,191 166.4,191 167.2,190.8 168,190.6 168.8,190.5 169.6,190.5 170.4,190.5 171.2,190.5 172,190.4 172.8,190.4 173.6,190.6 174.4,190.5 175.2,190.7 176,190.8 176.8,190.9 177.6,190.8 178.4,190.7 179.2,190.8 180,190.8 180.8,190.6 181.6,190.8 182.4,190.9 183.2,190.8 184,190.6 184.8,190.8 185.6,190.8 186.4,190.6 187.2,190.6 188,190.4 188.8,190.7 189.6,190.6 190.4,190.8 191.2,190.9 192,190.7 192.8,190.8 193.6,190.8 194.4,190.9 195.2,191 196,190.9 196.8,190.7 197.6,190.9 198.4,190.8 199.2,191 200,191 200.8,191.1 201.6,191.2 202.4,191.1 203.2,191 204,190.8 204.8,190.9 205.6,190.8 206.4,190.8 207.2,191 208,190.8 208.8,190.9 209.6,190.7 210.4,190.8 211.2,190.9 212,190.8 212.8,190.8 213.6,191 214.4,191 215.2,191 216,190.8 216.8,190.6 217.6,190.6 218.4,190.6 219.2,190.5 220,190.5 220.8,190.4 221.6,190.6 222.4,190.7 223.2,190.6 224,190.6 224.8,190.6 225.6,190.6 226.4,190.9 227.2,190.8 228,190.7 228.8,190.9 229.6,190.7 230.4,190.8 231.2,190.7 232,190.9 232.8,190.9 233.6,191" fill="none" stroke="#1b4b8c" stroke-width="2.1" stroke-linejoin="round"/>
<polyline points="31.8,222 32.5,214 33.3,208 34,206.9 35,212.8 37,209.9 40,210.6 40.8,210.5 41.6,210.3 42.4,209.9 43.2,209.9 44,209.8 44.8,209 45.6,208.6 46.4,208.3 47.2,207.9 48,207.5 48.8,207.3 49.6,207 50.4,207.3 51.2,207.1 52,206.5 52.8,206.3 53.6,206.7 54.4,207.3 55.2,207.6 56,207.9 56.8,207.9 57.6,208.9 58.4,209.4 59.2,209.2 60,209.8 60.8,210.3 61.6,210.2 62.4,209.8 63.2,209.8 64,209.8 64.8,209.5 65.6,209.6 66.4,209.2 67.2,209.8 68,210 68.8,210.1 69.6,210.5 70.4,210.5 71.2,210.2 72,209.9 72.8,209.6 73.6,209.3 74.4,209.8 75.2,210.3 76,210.1 76.8,209.9 77.6,210.1 78.4,210.6 79.2,211 80,210.6 80.8,210.9 81.6,211.1 82.4,211.3 83.2,211 84,210.6 84.8,211 85.6,210.8 86.4,210.7 87.2,210.8 88,210.7 88.8,211.1 89.6,210.8 90.4,210.6 91.2,210.7 92,210.8 92.8,210.9 93.6,211 94.4,211.1 95.2,211.2 96,211.1 96.8,211 97.6,210.8 98.4,210.7 99.2,210.7 100,210.6 100.8,210.7 101.6,210.5 102.4,210.6 103.2,210.8 104,210.6 104.8,210.4 105.6,210.4 106.4,210.4 107.2,210.5 108,210.3 108.8,210.6 109.6,210.7 110.4,210.8 111.2,210.7 112,210.6 112.8,210.7 113.6,210.6 114.4,210.6 115.2,210.5 116,210.5 116.8,210.6 117.6,210.7 118.4,210.8 119.2,210.6 120,210.5 120.8,210.5 121.6,210.5 122.4,210.4 123.2,210.3 124,210.1 124.8,210.1 125.6,210.2 126.4,210.5 127.2,210.6 128,210.7 128.8,210.9 129.6,210.9 130.4,210.9 131.2,210.9 132,210.6 132.8,210.6 133.6,210.6 134.4,210.5 135.2,210.5 136,210.7 136.8,210.6 137.6,210.6 138.4,210.5 139.2,210.4 140,210.6 140.8,210.3 141.6,210.2 142.4,210.4 143.2,210.4 144,210.2 144.8,210.3 145.6,210.3 146.4,210.4 147.2,210.4 148,210.4 148.8,210.5 149.6,210.4 150.4,210.3 151.2,210.2 152,210.4 152.8,210.5 153.6,210.3 154.4,210.5 155.2,210.4 156,210.2 156.8,210.3 157.6,210.3 158.4,210.3 159.2,210.4 160,210.3 160.8,210.4 161.6,210.3 162.4,210.3 163.2,210.4 164,210.3 164.8,210.3 165.6,210.2 166.4,210.2 167.2,210.5 168,210.5 168.8,210.6 169.6,210.7 170.4,210.5 171.2,210.7 172,210.8 172.8,210.6 173.6,210.7 174.4,210.6 175.2,210.5 176,210.7 176.8,210.7 177.6,210.8 178.4,210.6 179.2,210.7 180,210.5 180.8,210.4 181.6,210.4 182.4,210.2 183.2,210.4 184,210.3 184.8,210.3 185.6,210.5 186.4,210.5 187.2,210.7 188,210.7 188.8,210.9 189.6,210.8 190.4,211 191.2,211 192,210.8 192.8,210.9 193.6,210.7 194.4,210.8 195.2,210.9 196,211 196.8,210.7 197.6,210.6 198.4,210.8 199.2,210.9 200,211 200.8,210.7 201.6,210.7 202.4,210.5 203.2,210.6 204,210.8 204.8,210.6 205.6,210.8 206.4,210.8 207.2,210.7 208,210.6 208.8,210.6 209.6,210.8 210.4,210.8 211.2,210.6 212,210.4 212.8,210.3 213.6,210.6 214.4,210.5 215.2,210.6 216,210.5 216.8,210.6 217.6,210.6 218.4,210.5 219.2,210.7 220,210.7 220.8,210.8 221.6,210.9 222.4,211.1 223.2,210.8 224,210.7 224.8,210.6 225.6,210.6 226.4,210.8 227.2,211 228,210.7 228.8,210.6 229.6,210.8 230.4,210.9 231.2,210.8 232,210.8 232.8,210.6 233.6,210.8" fill="none" stroke="#141c8c" stroke-width="2.1" stroke-linejoin="round"/>
<polyline points="31.6,260 32.2,245 33,225 34,217.8 35,221.8 36,229.7 38,226.8 40,226.2 40.8,226.4 41.6,226.2 42.4,225.1 43.2,223.9 44,222.6 44.8,222.1 45.6,222.4 46.4,222.5 47.2,222.9 48,223.6 48.8,224 49.6,224.6 50.4,224.8 51.2,225.1 52,225 52.8,225.2 53.6,225 54.4,224.6 55.2,224.7 56,225.6 56.8,225.4 57.6,225.4 58.4,226 59.2,226.1 60,226.2 60.8,226.2 61.6,225.9 62.4,226 63.2,225.9 64,226.3 64.8,226.5 65.6,226 66.4,226.2 67.2,226.6 68,227 68.8,227.3 69.6,227.4 70.4,227.5 71.2,227.3 72,227.1 72.8,227.5 73.6,227.9 74.4,228.2 75.2,228.3 76,228 76.8,228.3 77.6,228.5 78.4,228.4 79.2,228.5 80,228.3 80.8,228.3 81.6,228.1 82.4,227.6 83.2,227.5 84,227.4 84.8,228 85.6,228 86.4,227.8 87.2,227.5 88,227.3 88.8,227.3 89.6,227 90.4,227 91.2,227.3 92,227.4 92.8,227.5 93.6,227.6 94.4,227.5 95.2,227.4 96,227.3 96.8,227.3 97.6,227.3 98.4,227.5 99.2,227.6 100,227.8 100.8,227.7 101.6,227.9 102.4,227.8 103.2,227.6 104,227.5 104.8,227.5 105.6,227.8 106.4,227.7 107.2,227.8 108,227.7 108.8,227.8 109.6,227.6 110.4,227.6 111.2,227.7 112,227.6 112.8,227.5 113.6,227.3 114.4,227.2 115.2,227.2 116,227.3 116.8,227.3 117.6,227.3 118.4,227.2 119.2,227.3 120,227.5 120.8,227.6 121.6,227.4 122.4,227.5 123.2,227.7 124,227.7 124.8,227.4 125.6,227.6 126.4,227.7 127.2,227.5 128,227.4 128.8,227.2 129.6,227.3 130.4,227.5 131.2,227.5 132,227.7 132.8,227.5 133.6,227.4 134.4,227.5 135.2,227.5 136,227.5 136.8,227.5 137.6,227.4 138.4,227.2 139.2,227.2 140,227.1 140.8,227.2 141.6,227.2 142.4,227.2 143.2,227.3 144,227.2 144.8,227.3 145.6,227.1 146.4,227.3 147.2,227.4 148,227.6 148.8,227.4 149.6,227.4 150.4,227.5 151.2,227.4 152,227.2 152.8,227.1 153.6,227 154.4,227.2 155.2,227.1 156,227.3 156.8,227.3 157.6,227.3 158.4,227.4 159.2,227.4 160,227.5 160.8,227.5 161.6,227.4 162.4,227.5 163.2,227.4 164,227.5 164.8,227.6 165.6,227.7 166.4,227.5 167.2,227.6 168,227.8 168.8,227.6 169.6,227.5 170.4,227.5 171.2,227.7 172,227.4 172.8,227.2 173.6,227.2 174.4,227.4 175.2,227.5 176,227.4 176.8,227.6 177.6,227.4 178.4,227.5 179.2,227.3 180,227.1 180.8,227 181.6,226.9 182.4,227.1 183.2,227.2 184,227.1 184.8,227.4 185.6,227.3 186.4,227.2 187.2,227.1 188,227.3 188.8,227.5 189.6,227.3 190.4,227.1 191.2,227.3 192,227.2 192.8,227.5 193.6,227.5 194.4,227.5 195.2,227.4 196,227.5 196.8,227.5 197.6,227.4 198.4,227.6 199.2,227.4 200,227.5 200.8,227.3 201.6,227.4 202.4,227.3 203.2,227.5 204,227.3 204.8,227.3 205.6,227.3 206.4,227.5 207.2,227.7 208,227.7 208.8,227.5 209.6,227.4 210.4,227.3 211.2,227.3 212,227.2 212.8,227.1 213.6,227.3 214.4,227.4 215.2,227.3 216,227.5 216.8,227.4 217.6,227.4 218.4,227.3 219.2,227.5 220,227.6 220.8,227.5 221.6,227.5 222.4,227.7 223.2,227.5 224,227.4 224.8,227.4 225.6,227.6 226.4,227.4 227.2,227.5 228,227.5 228.8,227.4 229.6,227.5 230.4,227.6 231.2,227.4 232,227.6 232.8,227.5 233.6,227.6" fill="none" stroke="#000000" stroke-width="2.1" stroke-linejoin="round"/>
<text x="232" y="34.6" text-anchor="end" font-size="10.5"><tspan font-style="italic">M</tspan>w 9.1</text>
<text x="232" y="51.8" text-anchor="end" font-size="10.5"><tspan font-style="italic">M</tspan>w 9.0</text>
<text x="232" y="69.0" text-anchor="end" font-size="10.5"><tspan font-style="italic">M</tspan>w 8.9</text>
<text x="232" y="86.2" text-anchor="end" font-size="10.5"><tspan font-style="italic">M</tspan>w 8.8</text>
<text x="232" y="103.4" text-anchor="end" font-size="10.5"><tspan font-style="italic">M</tspan>w 8.7</text>
<text x="232" y="120.6" text-anchor="end" font-size="10.5"><tspan font-style="italic">M</tspan>w 8.6</text>
<text x="232" y="137.8" text-anchor="end" font-size="10.5"><tspan font-style="italic">M</tspan>w 8.5</text>
<text x="232" y="155.0" text-anchor="end" font-size="10.5"><tspan font-style="italic">M</tspan>w 8.4</text>
<text x="232" y="172.2" text-anchor="end" font-size="10.5"><tspan font-style="italic">M</tspan>w 8.3</text>
<text x="232" y="189.4" text-anchor="end" font-size="10.5"><tspan font-style="italic">M</tspan>w 8.2</text>
<text x="232" y="206.6" text-anchor="end" font-size="10.5"><tspan font-style="italic">M</tspan>w 8.1</text>
<text x="232" y="223.8" text-anchor="end" font-size="10.5"><tspan font-style="italic">M</tspan>w 8.0</text>
<line x1="112.7" y1="39.3" x2="157.1" y2="227.5" stroke="#c0272d" stroke-width="2" stroke-dasharray="8.6,3.4"/>
<rect x="27.5" y="18.5" width="207.0" height="244.0" fill="none" stroke="#333" stroke-width="1"/>
<path d="M31.9 18.5v-3.5M31.9 262.5v3.5M52.2 18.5v-3.5M52.2 262.5v3.5M72.4 18.5v-3.5M72.4 262.5v3.5M92.6 18.5v-3.5M92.6 262.5v3.5M112.8 18.5v-3.5M112.8 262.5v3.5M133 18.5v-3.5M133 262.5v3.5M153.2 18.5v-3.5M153.2 262.5v3.5M173.4 18.5v-3.5M173.4 262.5v3.5M193.6 18.5v-3.5M193.6 262.5v3.5M213.8 18.5v-3.5M213.8 262.5v3.5M234 18.5v-3.5M234 262.5v3.5M27.5 258.4h-3.5M234.5 258.4h3.5M27.5 215.6h-3.5M234.5 215.6h3.5M27.5 172.8h-3.5M234.5 172.8h3.5M27.5 129.9h-3.5M234.5 129.9h3.5M27.5 87.1h-3.5M234.5 87.1h3.5M27.5 44.3h-3.5M234.5 44.3h3.5" stroke="#333" stroke-width="1" fill="none"/>
<line x1="19.7" y1="215.8" x2="19.7" y2="258.6" stroke="#666" stroke-width="1.1"/>
<text x="16.2" y="241.6" text-anchor="end" font-size="13.5">0.5</text>
<text x="31.9" y="280.9" text-anchor="middle" font-size="13.5">0</text>
<text x="112.8" y="280.9" text-anchor="middle" font-size="13.5">200</text>
<text x="193.6" y="280.9" text-anchor="middle" font-size="13.5">400</text>
<text x="131" y="298.6" text-anchor="middle" font-size="13.5">Number of samples</text>
<text transform="translate(11.3,141) rotate(-90)" text-anchor="middle" font-size="13.5">Coefficient of variation</text>
<text x="131" y="10.4" text-anchor="middle" font-size="14" font-weight="bold">(a)</text>
<clipPath id="cb"><rect x="303" y="18.5" width="377.6" height="243.5"/></clipPath>
<g clip-path="url(#cb)">
<polygon points="303,36 304,45 305,57.8 307,62 309,89 310,102.5 312,106 313.4,108.4 316,90 318,74 320.3,62 321.5,66 323.2,69.7 327,57.8 330.7,38.4 333,54.8 336,69.7 338,84.6 340,96.5 342,105 343,89 348,87.4 352.7,92.5 355,100.6 356.7,111 358.5,122.6 359,36 361,33 365.9,21.4 367.5,38.8 369.7,60 372,83 373.5,106 375,114.5 377,100 378.2,60 380.8,31 382.6,23 384,26 389.2,20 391.5,27 393,29 395,32 397,36 398.5,42.8 401.7,33.3 402.5,50.8 403,70 405,90 407,105 409,112 411,100 412,85 413,72 416,57.7 419.5,56.7 421.9,45.8 423.5,51.8 425,53.7 427,56.7 430.5,57 431.5,70 433,90 436,105 438.5,112.7 441,105 443,90 445,70 445.7,51.8 455.7,47.8 457,60 460,70 462,80 464,95 466,105 469,112.7 472,108 475,95 477,80 478.9,65 480,50 482.8,28.9 485.8,33.9 487,60.7 488.5,80 489.5,100 490.5,111.7 491.5,100 492,85 493.8,72 500.7,44.8 504.7,75 506,90 508,105 509.5,120.7 511,110 513,95 514,80 515,56.7 521,44.8 524,56.7 525.5,61.7 530,32.9 532.9,22 535,23 537,36.9 539,54.7 540.5,70.6 542,95 544,119.7 546,100 548,75 550.4,57.7 553,45.8 555,44.8 558,42.8 560,50.8 560.8,60 561.5,70 562.4,77.4 563.6,75 566,74 569,74.5 570.5,70 571.2,61.6 572,62 572.4,75 573.5,96 574.7,110 577,111.4 579,111.4 581.7,109 585,84.8 587.9,75 590,66.7 592,68.6 594.8,57.7 597,68.6 602.4,48.8 605,53.7 607,62.7 609,75 612.7,87 616.7,86.9 620,95.8 623,107.7 625,113 628,95.8 633,85.9 638,88.9 641,97.8 645,101.8 648,100.8 651,99.8 655,98 657,95.8 659,88.9 660.8,86.9 664,91.9 666,100.8 669,111.7 671,113 676,91.9 679,97.8 680.6,98 680.6,153 679,150 677,148 675,153 673,163 671.4,193.4 669,153 666,151 663.1,163.2 660,148 658,151 655.6,162.8 650,153 645,153 640.6,155.8 636,151 633,153 630.4,171.6 627,158 625,176.7 622,155 620,151 617.4,160.5 614,153 611,155 608,151 605,141 604.5,150 603.5,165 602.5,180 600.5,195 597,208 595.2,223.6 592,213 589,203.9 587,208 584.7,219.4 581,210 578,200 573,192 570,187 567.5,182 565,165 563.2,145 562,140 560,138 558,141 557,150 555,170 553.1,180 552.5,203 550,215 548,235 546.3,248 541,215 536.3,180 535,170 533.4,145 532,138 530.5,135.5 529,138 527,143 525,146 522,147 520.5,150 519.5,165 518.6,185 518,220 516,246.5 513.5,237 511,227.4 508.5,235 506,247.3 504,230 502,190 501.5,172 501.2,165 500.5,150 499,142 497.5,140 496,141 494,145 492,160 490,166.4 488,155 486.5,152 484.5,159 482.5,160 482,172 481,185 480,200 478.3,219.4 475.5,207 473,216.8 470,205 468,198 466,195 463,205 460.6,215.6 457,190 455,160 452.6,142 451,150 449,170 446,195 442.4,208.3 441,200 438.7,212 436,200 432.2,217.4 430,205 427,180 424.5,150 423,140 421,150 419,185 416,210 413.3,225.4 411,215 408.5,226.5 404,215 400,190 399,160 398,140 396,140 393,150 391.5,165 390,174 388.5,150 387,140 386,150 385,175 383,195 381,207 378,210 376,208 371,222 368,200 366,185 364.5,165 363,150 361,141 359.5,150 358.5,166 357,155 355,145 352.4,139.9 350,150 348.5,165 348,176.9 347,186.9 345,187.8 344,189.8 342,187.8 338,188.8 334.8,194.8 330.5,179 329.8,185 326.8,200 326,205 324,222.9 322,234.8 320.5,240.8 318.5,223.9 316,239 312,238.8 310,226.9 307.5,242.7 305,238 303,235" fill="#dba892"/>
<clipPath id="ct"><polygon points="303,36 304,45 305,57.8 307,62 309,89 310,102.5 312,106 313.4,108.4 316,90 318,74 320.3,62 321.5,66 323.2,69.7 327,57.8 330.7,38.4 333,54.8 336,69.7 338,84.6 340,96.5 342,105 343,89 348,87.4 352.7,92.5 355,100.6 356.7,111 358.5,122.6 359,36 361,33 365.9,21.4 367.5,38.8 369.7,60 372,83 373.5,106 375,114.5 377,100 378.2,60 380.8,31 382.6,23 384,26 389.2,20 391.5,27 393,29 395,32 397,36 398.5,42.8 401.7,33.3 402.5,50.8 403,70 405,90 407,105 409,112 411,100 412,85 413,72 416,57.7 419.5,56.7 421.9,45.8 423.5,51.8 425,53.7 427,56.7 430.5,57 431.5,70 433,90 436,105 438.5,112.7 441,105 443,90 445,70 445.7,51.8 455.7,47.8 457,60 460,70 462,80 464,95 466,105 469,112.7 472,108 475,95 477,80 478.9,65 480,50 482.8,28.9 485.8,33.9 487,60.7 488.5,80 489.5,100 490.5,111.7 491.5,100 492,85 493.8,72 500.7,44.8 504.7,75 506,90 508,105 509.5,120.7 511,110 513,95 514,80 515,56.7 521,44.8 524,56.7 525.5,61.7 530,32.9 532.9,22 535,23 537,36.9 539,54.7 540.5,70.6 542,95 544,119.7 546,100 548,75 550.4,57.7 553,45.8 555,44.8 558,42.8 560,50.8 560.8,60 561.5,70 562.4,77.4 563.6,75 566,74 569,74.5 570.5,70 571.2,61.6 572,62 572.4,75 573.5,96 574.7,110 577,111.4 579,111.4 581.7,109 585,84.8 587.9,75 590,66.7 592,68.6 594.8,57.7 597,68.6 602.4,48.8 605,53.7 607,62.7 609,75 612.7,87 616.7,86.9 620,95.8 623,107.7 625,113 628,95.8 633,85.9 638,88.9 641,97.8 645,101.8 648,100.8 651,99.8 655,98 657,95.8 659,88.9 660.8,86.9 664,91.9 666,100.8 669,111.7 671,113 676,91.9 679,97.8 680.6,98 680.6,153 679,150 677,148 675,153 673,163 671.4,193.4 669,153 666,151 663.1,163.2 660,148 658,151 655.6,162.8 650,153 645,153 640.6,155.8 636,151 633,153 630.4,171.6 627,158 625,176.7 622,155 620,151 617.4,160.5 614,153 611,155 608,151 605,141 604.5,150 603.5,165 602.5,180 600.5,195 597,208 595.2,223.6 592,213 589,203.9 587,208 584.7,219.4 581,210 578,200 573,192 570,187 567.5,182 565,165 563.2,145 562,140 560,138 558,141 557,150 555,170 553.1,180 552.5,203 550,215 548,235 546.3,248 541,215 536.3,180 535,170 533.4,145 532,138 530.5,135.5 529,138 527,143 525,146 522,147 520.5,150 519.5,165 518.6,185 518,220 516,246.5 513.5,237 511,227.4 508.5,235 506,247.3 504,230 502,190 501.5,172 501.2,165 500.5,150 499,142 497.5,140 496,141 494,145 492,160 490,166.4 488,155 486.5,152 484.5,159 482.5,160 482,172 481,185 480,200 478.3,219.4 475.5,207 473,216.8 470,205 468,198 466,195 463,205 460.6,215.6 457,190 455,160 452.6,142 451,150 449,170 446,195 442.4,208.3 441,200 438.7,212 436,200 432.2,217.4 430,205 427,180 424.5,150 423,140 421,150 419,185 416,210 413.3,225.4 411,215 408.5,226.5 404,215 400,190 399,160 398,140 396,140 393,150 391.5,165 390,174 388.5,150 387,140 386,150 385,175 383,195 381,207 378,210 376,208 371,222 368,200 366,185 364.5,165 363,150 361,141 359.5,150 358.5,166 357,155 355,145 352.4,139.9 350,150 348.5,165 348,176.9 347,186.9 345,187.8 344,189.8 342,187.8 338,188.8 334.8,194.8 330.5,179 329.8,185 326.8,200 326,205 324,222.9 322,234.8 320.5,240.8 318.5,223.9 316,239 312,238.8 310,226.9 307.5,242.7 305,238 303,235"/></clipPath>
<clipPath id="ce"><polygon points="303,63.5 303.5,64.6 304,67.9 304.5,74.6 305,81.4 305.5,88.1 306,94.9 306.5,101.6 307,106 307.5,106.9 308,107.8 308.5,108.7 309,109.5 309.5,110.4 310,111.3 310.5,109.5 311,110.2 311.5,111.1 312,110.2 312.5,110.1 313,110.9 313.5,110.9 314,109.9 314.5,110.7 315,111.6 315.5,109.7 316,110.6 316.5,111.4 317,108.8 317.5,105.2 318,101.7 318.5,98.2 319,94.6 319.5,90.8 320,86.8 320.5,82.8 321,78.8 321.5,75.6 322,73 322.5,71.4 323,72.5 323.5,72 324,71.2 324.5,72.2 325,72.3 325.5,70.9 326,72 326.5,72.6 327,71 327.5,69.5 328,67.9 328.5,66.3 329,64.8 329.5,63.2 330,61.6 330.5,61.5 331,64 331.5,66.4 332,68.9 332.5,71.4 333,74.4 333.5,78.1 334,81.8 334.5,85.6 335,89 335.5,92 336,94.9 336.5,97.9 337,100.5 337.5,102.7 338,104.8 338.5,106.9 339,105 339.5,104.4 340,106.5 340.5,106.6 341,104 341.5,106.1 342,108.2 342.5,103.5 343,105.6 343.5,107.8 344,103.1 344.5,105.2 345,107.4 345.5,103.4 346,95.4 346.5,92.4 347,93 347.5,93.5 348,94.1 348.5,94.6 349,95.2 349.5,95.7 350,97.5 350.5,99.2 351,101 351.5,102.7 352,105 352.5,108.1 353,111.1 353.5,114.2 354,117.4 354.5,120.6 355,123.9 355.5,116.8 356,120 356.5,123.2 357,116.1 357.5,119.4 358,122.6 358.5,125.8 359,118.7 359.5,121.9 360,125.2 360.5,118.1 361,121.3 361.5,124.5 362,73.8 362.5,38.7 363,38 363.5,37.2 364,38.7 364.5,43.9 365,48.7 365.5,53.6 366,58.4 366.5,63.2 367,68.2 367.5,73.2 368,78.2 368.5,83.2 369,89.3 369.5,96.9 370,104.6 370.5,110.3 371,113.2 371.5,116 372,116.3 372.5,112.6 373,115.4 373.5,117 374,113.3 374.5,114.9 375,117.7 375.5,114.1 376,114.3 376.5,117.1 377,114.8 377.5,113.7 378,116.6 378.5,115.5 379,111.9 379.5,108.3 380,104.6 380.5,93.2 381,76.5 381.5,62.1 382,56.5 382.5,50.9 383,45.4 383.5,39.8 384,34.2 384.5,32 385,29.8 385.5,29 386,28.7 386.5,28.2 387,28.8 387.5,28.9 388,29.3 388.5,30.5 389,31.1 389.5,31.8 390,32.5 390.5,33.2 391,34 391.5,34.7 392,35.6 392.5,36.6 393,37.6 393.5,38.6 394,40.1 394.5,42.4 395,44.6 395.5,45.4 396,43.9 396.5,44.2 397,45.7 397.5,44.2 398,43.7 398.5,46 399,47.4 399.5,61.7 400,75.2 400.5,80.2 401,85.2 401.5,90.2 402,94.7 402.5,98.4 403,102.2 403.5,105.9 404,108.9 404.5,110.6 405,112.4 405.5,114.1 406,114 406.5,112.1 407,113.8 407.5,114.6 408,111.7 408.5,113.5 409,115.2 409.5,112.2 410,113.1 410.5,114.8 411,112.8 411.5,112.8 412,114.5 412.5,113.4 413,110.4 413.5,107.4 414,104.4 414.5,98.7 415,91.2 415.5,84.3 416,77.8 416.5,73.8 417,71.4 417.5,69 418,66.6 418.5,64.2 419,61.9 419.5,60.8 420,60.7 420.5,60.5 421,60.4 421.5,60.2 422,60.1 422.5,60 423,58.7 423.5,59.4 424,59.9 424.5,60 425,60 425.5,60 426,60.1 426.5,60.1 427,60.2 427.5,62.8 428,69.3 428.5,75.9 429,82.5 429.5,89.2 430,94.2 430.5,96.7 431,99.2 431.5,101.7 432,104.2 432.5,106.7 433,108.8 433.5,110.4 434,111.9 434.5,113.4 435,115 435.5,115.3 436,113.7 436.5,114.7 437,115.6 437.5,114.1 438,114.4 438.5,115.9 439,114.4 439.5,114.1 440,115.6 440.5,114.7 441,113.7 441.5,115.3 442,115 442.5,113.4 443,111.9 443.5,110.4 444,108.8 444.5,105.9 445,102.2 445.5,98.4 446,94.7 446.5,90.2 447,85.2 447.5,80.2 448,75.2 448.5,65.4 449,55 449.5,54.8 450,54.6 450.5,54.4 451,54.2 451.5,54 452,53.8 452.5,53.6 453,55.7 453.5,60.4 454,63.9 454.5,65.5 455,67.2 455.5,68.9 456,70.5 456.5,72.2 457,74.2 457.5,76.7 458,79.2 458.5,81.7 459,84.7 459.5,88.4 460,92.2 460.5,95.9 461,99.2 461.5,101.7 462,104.2 462.5,106.7 463,108.7 463.5,110 464,111.3 464.5,112.6 465,113.8 465.5,115.1 466,115.6 466.5,114.8 467,114.9 467.5,115.7 468,115 468.5,114.6 469,115.9 469.5,115.1 470,114.4 470.5,115.6 471,115.3 471.5,114.5 472,115.4 472.5,115.4 473,114.6 473.5,113.9 474,113.1 474.5,112.3 475,111.5 475.5,109.9 476,107.7 476.5,105.6 477,103.4 477.5,101.2 478,99.1 478.5,95.9 479,92.2 479.5,88.4 480,84.7 480.5,80.8 481,76.9 481.5,72.9 482,69 482.5,62.7 483,55.9 483.5,57.2 484,66.5 484.5,72.9 485,79.3 485.5,87.2 486,97.2 486.5,105.5 487,111.4 487.5,112.6 488,106.7 488.5,110.2 489,113.7 489.5,107.9 490,109 490.5,114.9 491,109 491.5,107.9 492,113.7 492.5,110.2 493,106.7 493.5,112.6 494,111.4 494.5,105.5 495,94.2 495.5,86 496,82.4 496.5,78.8 497,75.2 497.5,73.2 498,71.3 498.5,69.3 499,67.3 499.5,65.3 500,66.9 500.5,70.7 501,74.4 501.5,78.2 502,84 502.5,89.7 503,94.7 503.5,98.4 504,102.2 504.5,105.9 505,110.3 505.5,115.5 506,120.8 506.5,122.5 507,118.9 507.5,119.7 508,123.2 508.5,119.6 509,118.7 509.5,123.9 510,120.3 510.5,117.6 511,122.9 511.5,121 512,117.5 512.5,121.8 513,121.8 513.5,118.2 514,114.6 514.5,110.9 515,107.2 515.5,103.5 516,99.7 516.5,93.7 517,86.2 517.5,76.2 518,64.6 518.5,59.3 519,58.3 519.5,57.3 520,56.7 520.5,58.7 521,60.6 521.5,62.2 522,63.9 522.5,63.6 523,61.9 523.5,63.6 524,64.3 524.5,61.6 525,63.2 525.5,64.9 526,61.7 526.5,62.9 527,64.6 527.5,62.3 528,62.6 528.5,64.2 529,63 529.5,59.8 530,56.6 530.5,53.4 531,50.2 531.5,47 532,43.8 532.5,40.6 533,37.4 533.5,38 534,41.9 534.5,46.3 535,50.8 535.5,55.2 536,60 536.5,65.3 537,70.6 537.5,77.1 538,85.2 538.5,93.3 539,100.7 539.5,106.8 540,113 540.5,119.2 541,120.9 541.5,116 542,118 542.5,121.9 543,117 543.5,116.7 544,122.9 544.5,118 545,115.5 545.5,121.7 546,119 546.5,114.3 547,120.4 547.5,119.9 548,115 548.5,110.1 549,105.2 549.5,99.5 550,93.2 550.5,87 551,80.7 551.5,76 552,72.4 552.5,68.8 553,65.2 553.5,61.6 554,59.1 554.5,56.8 555,54.5 555.5,52.2 556,50.8 556.5,52.8 557,56.3 557.5,62.1 558,68.9 558.5,74.8 559,79 559.5,80 560,79 560.5,78.2 561,80.2 561.5,79.2 562,78.2 562.5,80.4 563,79.4 563.5,78.4 564,80.6 564.5,79.6 565,78.6 565.5,79.8 566,79.8 566.5,78.8 567,78.1 567.5,77.9 568,77.7 568.5,77.6 569,77.7 569.5,83.9 570,93.5 570.5,101.5 571,107.4 571.5,113.2 572,113.5 572.5,113.8 573,114.1 573.5,114.4 574,114.6 574.5,114.6 575,114.6 575.5,114.6 576,114.6 576.5,114.6 577,114.6 577.5,114.6 578,114.6 578.5,114.6 579,114.6 579.5,114.6 580,114.6 580.5,114.6 581,114.6 581.5,114.6 582,114.6 582.5,114.3 583,113.9 583.5,113.4 584,113 584.5,112.6 585,111.5 585.5,107.8 586,104.1 586.5,100.5 587,96.8 587.5,93.1 588,89.5 588.5,87 589,85.3 589.5,83.6 590,81.9 590.5,80.2 591,78.5 591.5,76.6 592,74.6 592.5,72.7 593,71.2 593.5,71.7 594,71.1 594.5,71.1 595,71.6 595.5,71.4 596,69.6 596.5,69.3 597,71.8 597.5,70 598,68.8 598.5,71.3 599,70.3 599.5,68.5 600,70.8 600.5,70.7 601,68.9 601.5,67 602,65.2 602.5,63.4 603,62.3 603.5,64.6 604,67.1 604.5,70.2 605,73.3 605.5,76.4 606,78.8 606.5,80.5 607,82.1 607.5,83.7 608,85.3 608.5,87 609,88.6 609.5,90.2 610,90.2 610.5,90.2 611,90.2 611.5,90.2 612,90.2 612.5,90.2 613,90.2 613.5,90.2 614,91.4 614.5,92.8 615,94.1 615.5,95.5 616,96.8 616.5,98.2 617,99.8 617.5,101.8 618,103.8 618.5,105.7 619,107.7 619.5,109.7 620,111.4 620.5,112.8 621,114.1 621.5,115.4 622,115.1 622.5,113.8 623,115.1 623.5,115.6 624,113.5 624.5,114.9 625,116.2 625.5,113.3 626,114.6 626.5,115.9 627,113.9 627.5,114.3 628,115.7 628.5,114.5 629,111.6 629.5,108.7 630,105.9 630.5,103 631,100.1 631.5,98.4 632,97.4 632.5,96.4 633,95.4 633.5,94.4 634,93.5 634.5,92.5 635,92.7 635.5,94.2 636,95.7 636.5,97.1 637,98.6 637.5,100.1 638,101.2 638.5,101.7 639,102.2 639.5,102.7 640,103.2 640.5,103.7 641,104.2 641.5,104.7 642,104.9 642.5,104.8 643,104.6 643.5,105 644,104.8 644.5,104.6 645,105 645.5,104.8 646,104.7 646.5,104.9 647,104.9 647.5,104.7 648,104.8 648.5,104.9 649,104.7 649.5,104.6 650,104.4 650.5,104.2 651,104.1 651.5,103.9 652,103.7 652.5,103.6 653,103.4 653.5,103.2 654,103.1 654.5,102.9 655,102.6 655.5,102.4 656,102.2 656.5,102 657,101.7 657.5,101.5 658,101.3 658.5,100.9 659,100.3 659.5,99.8 660,99.2 660.5,98 661,96.2 661.5,98.2 662,100.4 662.5,102.7 663,104.7 663.5,106.5 664,108.4 664.5,110.2 665,112 665.5,113.8 666,115 666.5,115.4 667,115.7 667.5,116 668,115.4 668.5,115.6 669,115.9 669.5,115.8 670,115.5 670.5,115.9 671,116.2 671.5,115.5 672,115.8 672.5,116.1 673,115.4 673.5,115.7 674,116.1 674.5,114.9 675,112.8 675.5,110.7 676,108.6 676.5,106.5 677,104.4 677.5,102.3 678,101.2 678.5,101.2 679,101.2 679.5,101.2 680,101.2 680.5,101.2 680.5,145.1 680,145.3 679.5,145.7 679,145.2 678.5,145.1 678,145.8 677.5,145.3 677,144.8 676.5,145.9 676,145.4 675.5,144.9 675,145.8 674.5,145.5 674,145 673.5,145.5 673,146.8 672.5,148 672,149.3 671.5,149.3 671,149 670.5,148.7 670,148.3 669.5,148 669,148.6 668.5,148.4 668,148.1 667.5,148.2 667,148.5 666.5,148.1 666,147.8 665.5,148.5 665,148.2 664.5,147.9 664,148.6 663.5,146.3 663,145.1 662.5,145.9 662,146.6 661.5,145 661,145.7 660.5,146.5 660,144.8 659.5,145.6 659,146.3 658.5,145.3 658,145.4 657.5,146.1 657,145.8 656.5,145.2 656,146 655.5,146.7 655,147.5 654.5,149.3 654,151.2 653.5,150.3 653,149.8 652.5,149.8 652,149.8 651.5,149.8 651,149.8 650.5,149.8 650,149.8 649.5,149.8 649,149.8 648.5,149.8 648,149.8 647.5,149.8 647,149.8 646.5,149.8 646,149.8 645.5,149.8 645,149.8 644.5,149.8 644,149.8 643.5,149.8 643,149.8 642.5,149.8 642,149.8 641.5,150 641,149.7 640.5,149.2 640,148.6 639.5,148.1 639,147.9 638.5,148.3 638,148.2 637.5,147.9 637,148.2 636.5,148.3 636,147.8 635.5,148.1 635,148.4 634.5,147.9 634,148.1 633.5,148.4 633,148 632.5,148 632,148.3 631.5,148.7 631,149 630.5,149.3 630,149.7 629.5,151.9 629,155.5 628.5,155.7 628,158.8 627.5,156.8 627,154.8 626.5,159.2 626,157.2 625.5,154 625,151.4 624.5,150.4 624,149.4 623.5,148.4 623,148.5 622.5,149.6 622,148.6 621.5,148.2 621,149.8 620.5,148.8 620,147.8 619.5,149.6 619,149 618.5,148 618,149.3 617.5,149.2 617,148.2 616.5,148.9 616,150.6 615.5,149.9 615,150.2 614.5,150.5 614,149.8 613.5,150.1 613,150.2 612.5,149.5 612,148.9 611.5,148.2 611,147.1 610.5,145.5 610,143.8 609.5,142.1 609,140.5 608.5,138.8 608,141.4 607.5,140.8 607,139.1 606.5,139.6 606,141.1 605.5,139.5 605,137.8 604.5,141.5 604,139.8 603.5,138.1 603,141.8 602.5,140.1 602,138.5 601.5,143.2 601,151.3 600.5,158.8 600,166.3 599.5,173.8 599,179 598.5,182.8 598,186.5 597.5,190.3 597,192.9 596.5,194.8 596,196.6 595.5,198.5 595,200.3 594.5,202.2 594,204.1 593.5,204.6 593,203.1 592.5,201.6 592,201.1 591.5,202.1 591,201.9 590.5,200.9 590,201.9 589.5,202.2 589,200.7 588.5,201.7 588,202.5 587.5,201 587,201.5 586.5,202.5 586,201.3 585.5,201.3 585,202.3 584.5,203.4 584,204.4 583.5,204.5 583,202.8 582.5,201.1 582,199.5 581.5,197.8 581,196.5 580.5,195.7 580,194.9 579.5,194.1 579,193.3 578.5,192.5 578,191.7 577.5,190.9 577,190.1 576.5,189.3 576,188.5 575.5,187.6 575,186.8 574.5,186 574,185.1 573.5,184.3 573,183.4 572.5,182.4 572,181.4 571.5,180.4 571,179.4 570.5,177.4 570,174 569.5,170.6 569,167.2 568.5,163.8 568,159.6 567.5,154 567,148.5 566.5,142.9 566,140.1 565.5,138 565,136.6 564.5,136.1 564,135.6 563.5,135.1 563,135.1 562.5,135.7 562,135.2 561.5,135 561,135.7 560.5,135.3 560,134.8 559.5,135.6 559,135.4 558.5,134.9 558,135.4 557.5,135.5 557,135 556.5,135.2 556,136 555.5,136.7 555,137.5 554.5,140.5 554,145 553.5,149.8 553,154.8 552.5,159.8 552,164.8 551.5,168.4 551,171 550.5,173.6 550,176.3 549.5,192.1 549,201.2 548.5,203.6 548,206 547.5,208.4 547,210.8 546.5,214.8 546,219.8 545.5,219.9 545,216.8 544.5,213.7 544,210.3 543.5,206.6 543,202.9 542.5,199.1 542,195.4 541.5,191.7 541,188 540.5,184.2 540,180.5 539.5,176.8 539,173 538.5,169.1 538,163.7 537.5,155.9 537,148 536.5,141.3 536,138.8 535.5,136.3 535,134.5 534.5,133.6 534,132.8 533.5,132.6 533,133.5 532.5,133 532,132.5 531.5,133.3 531,133.1 530.5,132.3 530,133.1 529.5,133.3 529,132.5 528.5,133 528,133.5 527.5,132.6 527,132.8 526.5,133.6 526,134.5 525.5,135.5 525,136.8 524.5,138 524,139.3 523.5,140.2 523,141 522.5,141.7 522,142.5 521.5,142.9 521,143.1 520.5,143.2 520,143.4 519.5,143.6 519,143.7 518.5,144.4 518,145.4 517.5,146.4 517,151.3 516.5,158.8 516,168.5 515.5,179.6 515,205.1 514.5,220.8 514,224.8 513.5,226.3 513,225.7 512.5,224.5 512,226 511.5,226.1 511,224.2 510.5,225.7 510,226.5 509.5,224.6 509,225.4 508.5,226.9 508,225 507.5,225.1 507,222.8 506.5,212.8 506,202.8 505.5,192.8 505,179.6 504.5,164.1 504,153.2 503.5,145.7 503,143.1 502.5,140.4 502,138.5 501.5,137.9 501,137.2 500.5,136.9 500,137.3 499.5,137.3 499,136.9 498.5,137.2 498,137.5 497.5,136.8 497,137.1 496.5,137.5 496,136.9 495.5,137.1 495,137.4 494.5,137.1 494,137 493.5,137.3 493,137.7 492.5,138.4 492,139.4 491.5,140.4 491,141.4 490.5,144.1 490,147.8 489.5,149.5 489,150.6 488.5,149.6 488,149.2 487.5,150.8 487,149.8 486.5,148.8 486,150.6 485.5,150 485,149 484.5,150.2 484,150.2 483.5,149.2 483,149.9 482.5,151.6 482,153.4 481.5,155.1 481,156 480.5,156.2 480,156.5 479.5,156.7 479,164 478.5,172.7 478,179.2 477.5,186.3 477,193.8 476.5,200.2 476,205.9 475.5,203.8 475,205.8 474.5,206.5 474,204.2 473.5,203 473,201.1 472.5,199.4 472,197.6 471.5,195.9 471,194.5 470.5,193.8 470,193 469.5,192.3 469,192.5 468.5,193.1 468,192.4 467.5,192.1 467,193.3 466.5,192.6 466,191.8 465.5,193.5 465,192.7 464.5,192 464,193.1 463.5,192.8 463,192.1 462.5,192.8 462,194.5 461.5,196 461,192.5 460.5,188.9 460,183.8 459.5,176.3 459,168.8 458.5,161.3 458,155.3 457.5,151.6 457,147.8 456.5,144 456,140.3 455.5,140.3 455,142.8 454.5,141 454,139.8 453.5,142.3 453,141.8 452.5,139.3 452,141.8 451.5,142.6 451,138.8 450.5,141.3 450,143.3 449.5,139.5 449,140.8 448.5,143.3 448,145.8 447.5,149.8 447,154.8 446.5,159.8 446,164.8 445.5,169.3 445,173.5 444.5,177.6 444,181.8 443.5,186 443,190.1 442.5,192.9 442,194.8 441.5,196.6 441,196.8 440.5,199.4 440,200.4 439.5,197.4 439,197.7 438.5,200 438,198 437.5,197.3 437,199.5 436.5,199 436,196.8 435.5,199.1 435,199.5 434.5,197.2 434,198.6 433.5,199.9 433,197.7 432.5,196 432,191.8 431.5,187.6 431,183.5 430.5,179.3 430,174.4 429.5,168.4 429,162.4 428.5,156.4 428,150.4 427.5,145.5 427,142.1 426.5,138.8 426,137.8 425.5,140.3 425,139.5 424.5,137.3 424,139.8 423.5,140.1 423,136.8 422.5,139.3 422,140.8 421.5,137.5 421,138.8 420.5,141.3 420,138.1 419.5,138.3 419,140.8 418.5,143.3 418,145.8 417.5,152.1 417,160.8 416.5,169.6 416,178.3 415.5,184.3 415,188.5 414.5,192.6 414,196.8 413.5,201 413,205.1 412.5,208.5 412,211.4 411.5,214.1 411,211.8 410.5,214.1 410,214.5 409.5,212.3 409,213.6 408.5,215 408,212.7 407.5,212.6 407,210.6 406.5,207.4 406,204.3 405.5,201.2 405,198.1 404.5,194.9 404,191.8 403.5,188.7 403,180.8 402.5,165.8 402,152.8 401.5,142.8 401,136.8 400.5,136.8 400,136.8 399.5,136.8 399,136.8 398.5,136.8 398,136.8 397.5,136.8 397,136.8 396.5,136.8 396,136.8 395.5,136.8 395,136.8 394.5,136.8 394,136.8 393.5,136.8 393,136.8 392.5,137.8 392,139.5 391.5,141.1 391,142.1 390.5,138.8 390,138.8 389.5,142.8 389,139.5 388.5,137.8 388,142.8 387.5,140.1 387,136.8 386.5,141.8 386,140.8 385.5,137.5 385,140.8 384.5,141.5 384,138.1 383.5,139.8 383,144.8 382.5,154.3 382,166.8 381.5,174.8 381,179.8 380.5,184.8 380,189.8 379.5,193.6 379,196.6 378.5,199.6 378,202.6 377.5,204.1 377,204.6 376.5,205.1 376,204.8 375.5,205.9 375,205.4 374.5,204.9 374,205.9 373.5,205.5 373,205 372.5,205.6 372,202.7 371.5,199 371,195.3 370.5,191.6 370,187.8 369.5,184.1 369,179.1 368.5,172.5 368,165.8 367.5,159.8 367,154.8 366.5,149.8 366,145.9 365.5,143.7 365,141.4 364.5,139.2 364,139 363.5,141.8 363,139.6 362.5,138.4 362,141.4 361.5,140.1 361,137.8 360.5,140.8 360,140.5 359.5,138.3 359,140.2 358.5,140.9 358,138.7 357.5,139.6 357,139.4 356.5,138.5 356,137.5 355.5,137.1 355,138.7 354.5,137.7 354,136.7 353.5,138.8 353,137.9 352.5,136.9 352,138.4 351.5,138.1 351,137.1 350.5,138 350,138.3 349.5,137.3 349,137.5 348.5,139.6 348,141.8 347.5,143.9 347,146 346.5,149.8 346,154.8 345.5,159.8 345,168.9 344.5,176.7 344,181.7 343.5,183.8 343,184.1 342.5,184.3 342,184.5 341.5,184.7 341,184.9 340.5,184.7 340,184.7 339.5,184.8 339,184.8 338.5,184.7 338,184.8 337.5,184.9 337,185.1 336.5,185.2 336,184.3 335.5,182.4 335,180.6 334.5,178.7 334,176.9 333.5,177.5 333,179.1 332.5,177.3 332,176.7 331.5,179.5 331,177.6 330.5,175.8 330,179.8 329.5,178 329,176.2 328.5,179.2 328,178.4 327.5,176.5 327,178.4 326.5,182.3 326,184.8 325.5,187.3 325,189.8 324.5,192.3 324,194.8 323.5,197.4 323,200.6 322.5,204.5 322,209 321.5,213.4 321,217.9 320.5,221.5 320,221.3 319.5,224.3 319,224.9 318.5,220.7 318,223.7 317.5,225.8 317,221.5 316.5,223.1 316,226.1 315.5,222.4 315,222.5 314.5,225.5 314,228.5 313.5,225.5 313,225 312.5,228.1 312,226.1 311.5,224.3 311,227.5 310.5,226.7 310,223.7 309.5,226.9 309,227.3 308.5,224.3 308,226.2 307.5,227.9 307,224.9 306.5,225.6 306,228.8 305.5,231.8 305,231.8 304.5,231.8 304,231.8 303.5,231.8 303,231.8"/></clipPath>
<g clip-path="url(#ct)">
<polygon points="303,108 310,110 313,116 320,118 330,117 338,118 342,116 350,114 357,122 359,95 361,82 365,80 369,90 373,108 375,116 378,100 382,88 387,84 393,84 398,86 402,88 404,100 409,114 413,105 418,96 423,94 429,96 431,100 434,110 438,116 442,110 446,98 451,94 456,94 459,98 462,106 469,116 475,108 479,86 484,78 488,88 490,112 493,100 497,90 502,90 505,98 509,120 513,108 517,95 521,92 524,94 528,86 533,78 538,80 540,90 544,120 548,98 553,88 559,90 562,102 564,104 567,104 571,102 574,106 578,114 582,114 586,104 591,95 598,94 606,95 612,100 618,104 622,111 625,115 629,108 635,106 645,106 655,106 661,104 666,107 670,115 676,107 681,107 681,151 670,152 660,150 650,152 640,151 630,152 620,151 612,150 605,143 604,155 602,166 599,170 592,169 582,169 572,167 566,161 563,146 560,140 558,144 556,156 553,169 546,173 538,171 535,156 533,146 532,138 530.5,136 529,138 526,145 522,147 520.5,150 519.5,156 517,171 512,175 506,173 502,163 501.5,156 500,143 497.5,140 495,142 493,152 490,154 489,148 483,148 482,156 480,171 474,175 466,173 458,171 455,160 452.6,144 451,150 449,156 444,171 436,175 428,167 425,155 423,142 421,150 418,171 413,179 406,177 400,166 398.5,142 395,142 392,150 390,155 388,142 386,152 382,161 376,166 368,163 364,158 362,145 360,150 358,155 355,146 352,140 349,150 346,155 340,158 332,160 325,157 315,161 303,160" fill="#d9436a" clip-path="url(#ce)"/>
<path d="M303.2 100.4h0M303.2 80.4h0M302.9 83.1h0M303.1 94.8h0M303.2 101h0M303.1 107.3h0M303 108.2h0M303.1 115.5h0M303 174.8h0M302.9 187.9h0M302.9 196.1h0M302.9 173.9h0M302.9 175.3h0M302.9 158.6h0M303 156.2h0M305.7 108.3h0M305.5 108.9h0M305.7 194.8h0M305.9 195.4h0M305.7 171h0M305.6 153.8h0M308.1 113.1h0M308.1 167.3h0M308.4 198.4h0M308.1 188h0M308.2 161.4h0M308.3 178h0M308.2 167.2h0M308.2 182.8h0M308.2 206.5h0M308.4 186.7h0M310.9 115.5h0M310.7 118.5h0M310.5 186.2h0M310.8 203.5h0M310.5 177.6h0M310.6 163.7h0M310.9 186h0M310.9 160.5h0M313.4 113.3h0M313.4 118.1h0M313.1 197.4h0M313.4 161.6h0M313.3 180.7h0M313.3 191.9h0M313.2 185h0M313 154.9h0M313.3 158.9h0M315.6 113.2h0M315.7 110.4h0M315.6 161.9h0M315.9 168.9h0M316 187.6h0M315.8 172.6h0M315.8 171h0M315.7 189.1h0M315.9 196.7h0M315.7 158.1h0M318.4 112.9h0M318.4 104.7h0M318.2 118.2h0M318.4 177.6h0M318.5 189.3h0M318.3 198.8h0M318.3 184.7h0M318.3 168.8h0M318.4 186.7h0M318.2 195.2h0M318.3 156.9h0M320.8 123.2h0M320.9 185h0M321.1 173.4h0M320.8 177h0M320.8 164.7h0M320.7 162.9h0M321 151.3h0M320.8 152.3h0M323.4 102.6h0M323.3 114.7h0M323.4 103.3h0M323.2 122.8h0M323.2 121h0M323.5 167.3h0M323.6 160.9h0M323.3 158.3h0M323.4 172h0M323.7 192.5h0M323.6 151.7h0M325.8 112.2h0M326 111.3h0M326 107.4h0M325.9 122.5h0M326 118h0M325.8 168.3h0M326 161.1h0M326.2 173.2h0M325.9 170.1h0M326 179.7h0M326 155.8h0M328.3 94.4h0M328.2 103.5h0M328.6 115h0M328.6 105.3h0M328.5 164h0M328.2 175h0M328.4 176.4h0M331.1 113.1h0M331.2 102.3h0M331.2 106.6h0M331.1 110.2h0M331.2 160.7h0M330.8 166.3h0M331.2 163.5h0M331.1 153.5h0M330.9 158.7h0M333.7 81.2h0M333.4 97.2h0M333.5 118.9h0M333.4 161.7h0M333.5 166.1h0M336.3 114.6h0M335.8 111.1h0M336.3 116.8h0M336 105.5h0M336.3 124.2h0M335.8 125h0M336 167.1h0M336 159.9h0M336.2 162.1h0M338.4 106.9h0M338.6 108.7h0M338.8 122.4h0M338.8 169.4h0M338.7 159.5h0M338.8 175h0M341.2 116.5h0M341.2 161.2h0M341.4 159.9h0M341.2 177.7h0M341.3 155.2h0M341.2 150.6h0M343.8 105.4h0M343.6 114h0M343.9 108h0M343.5 121.2h0M343.8 166.5h0M343.5 177.2h0M343.8 164.2h0M343.5 157.9h0M343.7 160.6h0M346.2 101.8h0M346.2 107.8h0M346.2 108.4h0M346.2 119h0M346.1 150.7h0M346 149.9h0M348.7 103.9h0M348.6 109.8h0M348.7 105.3h0M349 119.5h0M351.3 109.9h0M351.4 101.7h0M351.4 111h0M351.5 110.4h0M351.1 113.8h0M354 115.8h0M353.9 119.8h0M361.4 138.6h0M363.8 46.3h0M364 46.6h0M363.8 79.7h0M363.9 71.9h0M363.7 64.9h0M366.4 74h0M366.6 65.9h0M366.7 72.5h0M366.5 74.8h0M368.9 90.6h0M369.1 169.3h0M368.9 162.2h0M368.9 159.8h0M369 161.3h0M371.8 180.3h0M371.6 184.3h0M371.3 182.4h0M371.6 159.4h0M371.6 158.8h0M371.5 158.8h0M373.9 120.3h0M374.1 119.2h0M374.3 166.8h0M374.1 174.8h0M374.1 169.4h0M374.2 185.7h0M374.1 158.2h0M376.7 162.1h0M379.1 165.5h0M379.1 164.5h0M379.2 177.3h0M379.2 163.9h0M379.2 159.5h0M381.9 72.5h0M381.5 62h0M381.9 85.8h0M384 83.9h0M384.3 67.3h0M384 48.5h0M384.5 45.6h0M384.4 87.1h0M386.5 74.2h0M386.5 76.4h0M386.5 68.4h0M386.6 51.6h0M386.7 58.8h0M386.6 83.1h0M386.8 48.5h0M386.6 67h0M386.7 87.2h0M387 88h0M389.5 50.6h0M389.4 76.5h0M389.4 80.6h0M389.3 81.3h0M389.2 61.1h0M389.1 73.4h0M389.1 68.8h0M392 82.3h0M391.8 82.3h0M392.1 72.7h0M391.9 88.6h0M394.4 80.5h0M394.2 64.6h0M394.6 82.4h0M394.3 63.1h0M394.5 56.4h0M394.2 81.1h0M396.8 73.6h0M397.1 76h0M396.9 68.5h0M396.8 57.6h0M396.7 50.4h0M396.7 56.9h0M396.7 63.6h0M396.9 91.6h0M396.7 91.8h0M399.6 66.8h0M399.5 85.5h0M399.4 80.6h0M399.6 73.5h0M404.3 190.1h0M404.5 181.1h0M404.4 190.4h0M404.4 183h0M404.4 182.2h0M404.4 185.6h0M404.4 171.9h0M404.6 167.8h0M404.5 174h0M404.5 170h0M407.2 186.2h0M407.1 193h0M407.3 179.4h0M406.8 178.2h0M406.9 172.9h0M409.8 112.9h0M409.6 197.4h0M409.7 179.5h0M409.8 179.8h0M409.3 177.4h0M411.9 113.6h0M412.2 179.5h0M412.3 188.2h0M414.7 100.8h0M414.6 108h0M414.5 177.4h0M414.6 186h0M414.8 170.6h0M417.3 95.2h0M417.2 82h0M417 97.1h0M417.1 98.3h0M417 102.5h0M419.5 70.2h0M419.5 81.8h0M419.5 94.2h0M419.5 103h0M422.4 89.4h0M422.3 64.9h0M422.3 95.2h0M422 101.6h0M422.4 97.1h0M424.9 84.5h0M424.6 86.3h0M424.7 96.5h0M424.9 99.4h0M427.4 65.9h0M427.2 93.5h0M427.5 99.9h0M430 101.8h0M432.5 105.9h0M432.4 181.9h0M432.5 174.3h0M432.2 194h0M432.2 171h0M434.8 168.9h0M434.7 167.1h0M437.6 116.6h0M437.6 192.3h0M437.6 175.3h0M440 118.5h0M440 179.4h0M440 187.1h0M439.9 171.1h0M442.3 174.7h0M442.4 178.6h0M442.4 179.7h0M442.7 186.2h0M442.6 171.7h0M445.1 101.6h0M445 103.2h0M445.1 173.8h0M445 160.9h0M447.5 83.9h0M447.5 88.3h0M447.6 89.8h0M447.6 79.5h0M447.6 81.2h0M449.9 90.7h0M450.3 90.9h0M450.2 91.5h0M450.2 88.2h0M449.9 79.7h0M450.3 87.9h0M450.3 79.1h0M450.2 75.7h0M450.3 97.8h0M452.7 80.3h0M452.6 87.5h0M452.6 95.6h0M452.6 98.8h0M452.5 97.5h0M455 86.8h0M455.4 78.1h0M455.2 92h0M455.3 100.2h0M457.5 86.1h0M457.9 82.4h0M457.5 88h0M460.2 98.9h0M460.1 103.6h0M460.3 105.3h0M460.2 183.8h0M460.5 167.8h0M463 174.4h0M462.5 179h0M462.8 193.1h0M462.8 185.6h0M462.6 173.8h0M462.8 167.5h0M465.3 117.5h0M465.2 115.3h0M465.1 114.9h0M465.3 180.7h0M465.2 172h0M467.7 114.3h0M467.6 121.2h0M467.8 181.2h0M467.6 173.7h0M467.8 169.3h0M468 167.6h0M470.2 178h0M470.5 191h0M470.6 171.6h0M472.8 189h0M472.8 179.1h0M472.9 183.3h0M475.5 185.8h0M475.4 183.8h0M475.2 177.3h0M475.6 183h0M475.4 170.4h0M475.7 173.8h0M477.7 179.4h0M478 175.8h0M478.2 173.6h0M478.1 165.1h0M478.2 165.8h0M480.7 80h0M480.5 88h0M480.7 84.4h0M482.8 67.8h0M483.1 65.1h0M482.9 82.2h0M488 144.6h0M488.3 142h0M495.7 89.5h0M495.9 100.7h0M495.7 134.5h0M498.2 75.5h0M498.4 81.6h0M498.1 85.8h0M498.2 82.1h0M498.4 85.2h0M498.2 96h0M498.1 94.8h0M498.1 138.1h0M500.9 84.5h0M500.6 74.5h0M500.6 72.5h0M503.2 100.9h0M506 197.7h0M505.8 176.8h0M506 184.3h0M506 190.3h0M505.8 171.2h0M505.8 171.7h0M505.7 167.7h0M508.4 176.2h0M508.5 175.4h0M508.3 188.1h0M508.3 190.1h0M508.5 199.8h0M511 121.4h0M511.1 179h0M510.9 183h0M511.1 206.2h0M511.1 201.7h0M511.1 197h0M511.1 168.4h0M513.2 205.6h0M513.3 186.8h0M513.4 190.6h0M513.4 203.6h0M513.3 174.9h0M513.6 169.8h0M516.2 99h0M516 167.9h0M518.4 82.5h0M518.4 90.4h0M518.5 93.4h0M518.6 100.9h0M521.3 81.2h0M521.2 99.7h0M523.6 89.2h0M523.6 87.7h0M523.4 100.4h0M523.8 140.9h0M526.4 74.8h0M526.1 82.4h0M526.3 87.6h0M526.4 85.6h0M526.1 86.9h0M528.6 68.9h0M528.4 91.2h0M531 130.4h0M533.9 54h0M533.9 73.3h0M533.6 78.6h0M533.9 80.7h0M536.1 76.7h0M536.4 77.1h0M536.4 85.3h0M538.9 163.2h0M538.7 164.8h0M541.2 175.3h0M541.5 180.1h0M541.2 172.9h0M541.5 182h0M541.6 179h0M541.6 165h0M541.1 170.5h0M543.7 197.8h0M543.6 196.8h0M544 179.4h0M543.7 172.8h0M543.9 170.3h0M546.2 114.5h0M546.3 173.5h0M546.3 175.2h0M546.2 173.4h0M546.6 199.9h0M546.3 166.5h0M549 194h0M549.2 173.7h0M549.1 197.9h0M551.5 85.8h0M551.4 79.9h0M551.2 93.9h0M551.6 166.6h0M554.2 74.8h0M553.9 80h0M553.8 95.4h0M554.1 88.8h0M556.4 74.1h0M556.4 75.4h0M556.7 78.7h0M556.7 71.1h0M556.4 63.5h0M556.4 80.4h0M556.3 94.2h0M559.2 80.2h0M561.8 90.6h0M561.7 94.3h0M561.6 98.9h0M561.5 106.2h0M564.3 100.8h0M564.2 100.3h0M564.1 97.5h0M564.1 98.6h0M564.1 106.3h0M566.5 94.4h0M566.6 80.5h0M569.2 82.5h0M569 89.8h0M571.8 176.1h0M571.8 175.5h0M571.7 169.5h0M571.7 165.6h0M571.5 163.7h0M574.3 171.2h0M574 162.5h0M576.8 179.1h0M576.9 188.1h0M576.8 168.4h0M576.9 160.9h0M579.5 115.4h0M579.1 180h0M579.3 191.7h0M579.1 193.6h0M579.2 183.1h0M581.8 116.3h0M581.9 199.8h0M582 189.3h0M582 199.1h0M581.8 184.6h0M581.8 174.1h0M581.8 166.7h0M584.5 113h0M584.5 173.1h0M584.5 199.3h0M584.2 195.8h0M584.5 186.3h0M587.2 98.3h0M586.9 171.3h0M586.7 186h0M587 188.6h0M587.1 192.8h0M589.5 95.6h0M589.3 198.2h0M589.5 185.1h0M589.3 186.8h0M589.5 183.4h0M589.3 179.9h0M592.1 83.7h0M592 96.6h0M592.2 165.8h0M594.3 92.2h0M594.7 91.4h0M594.3 96h0M594.7 194.5h0M594.4 170.6h0M597.1 88.2h0M596.8 77.5h0M597.1 93.1h0M596.9 74.8h0M597 86.1h0M597 100.6h0M597.3 187.1h0M596.9 183.2h0M597.2 186h0M597.3 166h0M599.7 75.1h0M599.6 86.2h0M599.8 70.3h0M599.7 86.4h0M599.6 82.2h0M599.7 169h0M599.5 168h0M602.1 76.3h0M602 88.8h0M602.2 99.6h0M604.5 94.4h0M604.8 78.9h0M604.4 93.8h0M604.5 98h0M607 89.6h0M607.1 90.5h0M607 98.7h0M607.1 137.5h0M609.8 96.3h0M612.3 106.2h0M612.5 105.5h0M612.4 143.9h0M614.6 94.2h0M615 98.3h0M614.8 109.6h0M614.9 143.3h0M617.2 108.9h0M617.6 105.3h0M617.3 145.2h0M619.8 110.7h0M622.2 149.6h0M624.9 147h0M625.1 146.3h0M627.3 154.2h0M627.4 155.8h0M627.5 143.9h0M630 106.7h0M632.6 106.3h0M632.7 106.1h0M632.6 109.3h0M632.4 110.2h0M634.9 108.3h0M635.3 112.3h0M635.2 109.5h0M637.7 108.7h0M637.6 111.5h0M640.3 103.1h0M640.2 111.9h0M640.4 149h0M640.1 149.1h0M645 107.1h0M647.6 105h0M648 110.1h0M647.5 107.7h0M648 144.8h0M647.6 147.6h0M650.5 105.3h0M650.3 110.3h0M652.8 106.4h0M652.8 110.4h0M657.7 108.1h0M657.7 146.5h0M660.3 145.7h0M663.1 112.7h0M662.8 112.3h0M662.9 144.4h0M665.6 113.9h0M665.6 143.4h0M668.2 147.6h0M670.5 118.6h0M670.6 120.5h0M673.3 145.2h0M675.5 114.5h0M678.4 105.8h0M678.1 104.4h0M678 114.8h0M680.6 105.3h0M680.7 108h0" stroke="#d83a62" stroke-opacity="0.6" stroke-width="4.2" stroke-linecap="round" fill="none"/>
<path d="M303 82.1h0M302.9 94.4h0M303.2 91.1h0M303.2 103.3h0M303.2 82.7h0M303.1 100h0M303.3 112.6h0M303.2 192.7h0M303.4 166.5h0M303.1 160.7h0M302.9 182.1h0M303.3 182.3h0M303 166.3h0M303.2 167.9h0M303.2 165.4h0M303.3 152.7h0M305.4 99h0M305.9 106.7h0M305.7 92.1h0M305.8 89.4h0M305.9 177.6h0M305.8 183.2h0M305.9 190.1h0M305.5 169.8h0M305.8 177.3h0M305.4 157h0M305.8 153.6h0M308.1 108.9h0M308 112.6h0M308.2 180.9h0M308.1 173.7h0M308.1 156.6h0M308.3 153h0M310.6 111.2h0M310.8 116.5h0M310.8 114.8h0M310.8 179.6h0M310.6 194.9h0M310.9 167h0M310.6 165h0M310.7 187.2h0M310.9 186.3h0M310.6 166.7h0M310.8 157.8h0M310.8 157.7h0M313.3 184.6h0M315.8 115.7h0M315.6 109.3h0M315.6 116.1h0M316 122.8h0M315.8 122.7h0M315.9 186.7h0M316 188h0M316 177.4h0M315.8 163.3h0M315.8 175.4h0M315.8 188.3h0M318.1 100.1h0M318.2 105.4h0M318.1 122.6h0M318.3 170.2h0M318.2 173.2h0M318.5 187.8h0M318.5 166.6h0M321 116.8h0M321.1 116.6h0M321 114.4h0M320.9 114.7h0M320.6 116.7h0M321 95.5h0M321.1 113.7h0M321.1 189.9h0M320.7 180h0M320.6 161.3h0M321 162.8h0M323.3 93.6h0M323.4 108.8h0M323.4 112.9h0M323.5 117h0M323.3 114.7h0M323.5 90.3h0M323.2 108.6h0M323.3 120.9h0M323.3 175.3h0M323.4 161.3h0M323.2 188.6h0M323.3 154.3h0M323.2 156.8h0M326 117h0M325.8 118.9h0M325.8 162.1h0M326.1 172h0M325.7 170.6h0M326 170.7h0M325.8 163.8h0M325.9 150.4h0M328.5 114h0M328.5 100.5h0M328.4 102.1h0M328.3 92.3h0M328.3 105h0M328.4 93.9h0M328.4 113.8h0M328.4 114.8h0M328.2 107.4h0M328.5 121.7h0M328.4 120.3h0M328.4 123.4h0M328.5 119.1h0M328.7 168.9h0M328.4 172.9h0M328.6 165.9h0M328.6 176.6h0M328.2 157.3h0M331.2 105.9h0M331 115.2h0M331.1 86.3h0M331 84h0M331.1 164.3h0M331.1 166.3h0M330.9 163h0M333.8 96.6h0M333.5 91.3h0M333.7 86.5h0M333.6 112h0M333.6 105.8h0M333.4 91h0M333.4 123h0M333.3 120.6h0M333.6 166.8h0M333.5 176.4h0M333.5 156.2h0M333.4 159.5h0M336.3 110.5h0M335.9 107.3h0M336.2 163.8h0M336.1 162.8h0M336 172.8h0M335.8 169.4h0M336.1 151.3h0M336.2 152.7h0M338.5 111.5h0M338.8 161.8h0M338.4 163.6h0M341.2 107.5h0M341 114.2h0M341.1 173.5h0M340.9 172.2h0M340.9 156.6h0M343.8 118.7h0M343.7 123h0M343.9 157.7h0M343.9 155.3h0M343.5 155.3h0M343.6 151.6h0M346.4 114.8h0M346.1 111.2h0M346.2 108.5h0M346.1 149.9h0M348.9 110.5h0M348.8 114.5h0M351.4 119.3h0M353.9 115.8h0M353.6 122.4h0M356.6 127.5h0M356.5 127.4h0M364.1 61.6h0M363.9 77.7h0M364.2 72.8h0M364.1 45.5h0M364.2 78.2h0M364 76.4h0M364.2 78.7h0M364.2 83.3h0M363.8 83.8h0M366.6 73.4h0M366.4 70.5h0M366.4 71.5h0M366.4 76.6h0M366.3 70.1h0M366.3 73h0M366.6 85.3h0M366.6 90.7h0M369.2 89h0M369 89.5h0M369 168.2h0M371.4 185.5h0M371.3 175.5h0M371.7 179.6h0M371.4 167.9h0M374.3 170.7h0M374.3 192.4h0M374.3 161.8h0M374 161.3h0M376.5 188h0M376.7 175.1h0M376.5 167h0M376.7 160.3h0M379 170.4h0M379 163.2h0M381.7 81.9h0M381.9 83.5h0M381.7 65.1h0M381.7 60.3h0M381.5 90.3h0M381.6 170.7h0M381.6 172.1h0M381.6 159h0M381.9 157.3h0M384 48.8h0M384.3 59.7h0M384.4 80.4h0M384 59.6h0M384.4 85.2h0M384.4 63.6h0M384.1 93.4h0M386.6 71.8h0M386.7 83.9h0M386.9 72h0M386.9 63.2h0M386.5 62.1h0M386.6 77.1h0M386.5 80.8h0M389.4 47.8h0M389.2 64.7h0M389.2 63.6h0M389.3 72.5h0M389.4 89.7h0M389.2 88.5h0M391.8 71h0M392 81h0M392 65.9h0M391.8 68.6h0M391.8 82.3h0M391.8 91.7h0M394.3 83.1h0M394.5 56.6h0M394.3 50h0M394.3 48.3h0M394.6 85.2h0M394.2 89.4h0M397.1 54.9h0M397.1 64.5h0M396.8 77.8h0M399.4 64.5h0M399.4 70.2h0M399.5 83.6h0M399.4 75.1h0M399.6 90.5h0M407.1 116.2h0M409.7 120.2h0M409.7 181.3h0M412.3 114.9h0M412.2 192.7h0M412.2 179h0M412.3 178.9h0M412.3 170.9h0M412.1 172.6h0M414.7 101.1h0M414.8 108.3h0M414.8 177.8h0M414.8 183.1h0M414.5 172.3h0M417.3 94.8h0M417.1 89.4h0M417 90.3h0M417.2 100h0M419.5 84.6h0M419.8 76.1h0M419.5 90.1h0M419.7 71h0M419.5 85.8h0M419.9 75.7h0M422.1 71.6h0M422.1 82.4h0M422.3 80.1h0M422.3 84.2h0M422 74.7h0M422.4 101.2h0M422.2 138.3h0M424.8 69.5h0M425 88.5h0M424.6 73.5h0M425 92.3h0M424.7 83h0M424.8 66.5h0M424.8 66.4h0M424.8 100.4h0M427.1 77.4h0M427.3 78.1h0M427.2 81.6h0M427.2 69.4h0M427.2 87.3h0M427.4 101.5h0M429.7 98.9h0M429.6 161.2h0M432.4 112.3h0M432.4 111.8h0M432.2 179.8h0M432.1 184.1h0M432.4 179.8h0M432.3 167.7h0M434.9 182.4h0M437.4 117h0M437.4 115.3h0M437.5 195.9h0M437.3 181.4h0M440.2 189h0M440 190.5h0M440.1 166.1h0M440.1 168.4h0M442.7 114.2h0M442.3 176.8h0M442.7 179.1h0M442.4 165.8h0M444.9 103.9h0M445.1 106.3h0M445.2 168.4h0M445.3 164.1h0M447.7 88.8h0M447.6 85.1h0M447.7 95.5h0M450 93.4h0M450 99.8h0M452.5 65.8h0M452.8 92.8h0M452.4 97.5h0M455.4 91h0M455.2 99.1h0M457.7 82.5h0M457.7 93.6h0M457.9 82.1h0M457.9 97.8h0M457.7 98.3h0M457.6 96.3h0M457.9 96.5h0M460.1 93.9h0M460.2 100.2h0M460.2 93.1h0M460.2 95.3h0M460 176.9h0M460.3 182.5h0M460.2 183.4h0M460.3 164.2h0M460.4 164.4h0M463 114.4h0M462.6 178.2h0M462.8 189.3h0M462.8 172.8h0M462.8 164.6h0M462.9 166.6h0M465.1 115.2h0M465.4 177h0M468 118.4h0M467.8 121.8h0M468 182h0M468 175.2h0M467.9 185.1h0M467.6 192.9h0M468.1 166.6h0M470.4 117.4h0M470.2 177.2h0M470.5 175.3h0M470.6 168.9h0M472.9 175.7h0M473.2 185.2h0M475.7 111.8h0M475.6 190.4h0M475.6 182.7h0M475.5 170.2h0M475.5 166.2h0M478.1 175.5h0M480.7 86.9h0M482.9 76.5h0M482.8 74.5h0M483.2 65.7h0M483.2 74.2h0M483.2 71.8h0M483 65.6h0M483 141.3h0M485.4 149.3h0M485.7 144.7h0M488.1 142.9h0M488.2 147.5h0M495.6 84.2h0M495.8 91.1h0M495.8 84.6h0M495.5 93.7h0M495.9 134.5h0M498.2 93.7h0M500.8 76.5h0M500.6 75.5h0M500.8 73.7h0M503.4 100h0M506 188.9h0M505.9 175.9h0M505.9 175.9h0M505.9 182.5h0M505.8 192.3h0M505.8 171.6h0M508.6 174.3h0M508.4 205.2h0M508.4 199.4h0M510.9 211.6h0M510.7 210.1h0M511.1 212.5h0M511.2 179.7h0M511.1 195.8h0M510.9 191.9h0M513.6 204.8h0M513.7 175.4h0M513.5 194.7h0M513.2 174.4h0M513.2 206.8h0M513.3 170h0M515.9 99.8h0M515.9 100.8h0M515.8 105.7h0M518.7 81.6h0M518.7 79.1h0M518.3 91.8h0M518.3 67h0M518.3 101.3h0M518.7 96.2h0M521.2 91.2h0M520.8 82.4h0M521.1 99.8h0M520.8 94.2h0M520.9 143.4h0M523.8 85.5h0M523.8 87.3h0M523.7 77.3h0M523.4 92.4h0M523.7 95.1h0M526.2 71.7h0M526.2 63.4h0M526.1 83h0M526.2 84.3h0M526.1 90.7h0M528.7 83.9h0M528.5 63.1h0M528.6 83.3h0M528.6 86.4h0M528.5 131.2h0M528.7 131.6h0M531 68.2h0M531.2 59.3h0M531.4 78.5h0M531.3 66.3h0M531.3 70.3h0M531.3 85.4h0M533.8 74.2h0M534 51.1h0M533.9 55.2h0M533.8 67.2h0M533.6 73.9h0M536.2 76.4h0M536.3 74.7h0M536.2 85.5h0M536.3 85.6h0M538.9 165.7h0M541.4 190.7h0M541.5 177.4h0M541.3 170.1h0M541.4 166.6h0M544 185.4h0M544 173.7h0M544.1 189h0M544.1 183.7h0M543.6 170.7h0M546.6 190.8h0M546.3 196.7h0M546.6 174.9h0M546.3 170.9h0M546.4 171.7h0M549 175.9h0M548.7 195.8h0M548.9 174.8h0M548.8 190.2h0M549.2 171.6h0M551.4 97.6h0M551.4 95.6h0M551.4 167.9h0M551.3 169.4h0M554.1 66.7h0M554.1 93.8h0M556.3 68.4h0M556.6 65.6h0M559.2 85.3h0M558.9 83.3h0M559.3 93.3h0M561.8 93.5h0M561.6 80.4h0M561.5 96h0M561.6 96.5h0M561.5 105.1h0M564.4 98.9h0M564.1 93.6h0M564 90.2h0M564.3 82.8h0M564.1 106h0M566.8 97.3h0M566.7 81.8h0M566.5 99.1h0M566.6 97.9h0M566.7 80.3h0M566.8 111.3h0M566.6 104.3h0M569.4 97.1h0M569.1 96.1h0M569.3 81.9h0M569 90.9h0M569 102.8h0M569.2 87.4h0M569 96.8h0M569.1 97h0M569.4 102.6h0M569.4 98.9h0M569.3 106.1h0M569.4 158.5h0M569.1 161h0M571.7 174.4h0M571.7 171.8h0M574.3 181.4h0M574.4 172.8h0M574 171.9h0M574.3 185.5h0M574.5 182.9h0M574.4 162.4h0M576.9 115.4h0M576.7 189.8h0M576.6 171.4h0M576.8 187.2h0M577.1 161.9h0M579.3 116.6h0M579.5 118.8h0M579.4 194.7h0M579.3 175.6h0M579.1 187h0M579.6 187.3h0M579.1 185.9h0M579.5 189.3h0M581.7 117.4h0M582 189.1h0M581.6 178h0M582 185.5h0M581.9 182.9h0M581.7 196h0M581.9 196.4h0M582.1 164.4h0M584.5 185h0M584.3 192.7h0M584.2 178.8h0M584.6 181.2h0M584.3 175.8h0M584.5 188.3h0M584.5 168.1h0M586.8 192h0M587.1 198.6h0M586.8 167.8h0M587.1 167.5h0M589.4 86.3h0M589.4 94.6h0M589.3 187.4h0M589.3 196.1h0M589.3 164.7h0M589.2 168.3h0M592.1 80.9h0M591.8 90.6h0M592.2 92.8h0M592.2 87.5h0M591.9 97.1h0M592 101.9h0M591.8 98.8h0M592.1 171.9h0M592.1 176.8h0M591.8 199.7h0M592 192.3h0M592 173.9h0M592.2 167.5h0M594.3 86h0M594.3 76.1h0M594.6 80.5h0M594.4 98.5h0M594.7 97h0M594.4 175.9h0M594.4 170.8h0M594.4 171.1h0M594.3 190.2h0M594.7 163.6h0M594.4 167.4h0M597.1 85.6h0M597.3 94.9h0M597.2 95.2h0M597 172.8h0M596.9 192.1h0M596.9 180.2h0M597.3 189.2h0M597 188.9h0M597 168.1h0M596.9 164.2h0M597.1 164h0M599.4 87.1h0M599.8 79.8h0M599.5 96.4h0M599.8 171.2h0M602.2 86h0M601.9 81.9h0M602.3 93.5h0M602 86.2h0M602.4 78.3h0M602.3 86.7h0M602.2 99.1h0M604.8 88.7h0M604.7 92.3h0M604.6 74.6h0M604.9 140.1h0M604.8 139.6h0M607.2 91.8h0M607.4 140.3h0M607.3 138.2h0M607.2 138.2h0M609.6 96h0M609.5 91.1h0M609.8 98.5h0M609.7 100h0M609.7 143.8h0M609.8 143.8h0M612.4 149.1h0M614.8 98.6h0M614.8 102.1h0M614.9 145.1h0M620 149h0M622.5 145.8h0M625.2 121.3h0M625 119.7h0M624.9 121.4h0M625 148.3h0M625 143.9h0M627.3 114.3h0M627.4 145.8h0M627.7 143.9h0M630.3 105.1h0M630.1 110.7h0M630.2 111.8h0M630.2 146h0M632.7 102.1h0M632.6 99.9h0M632.8 147.2h0M635.2 99.9h0M635.1 106.4h0M634.9 145.8h0M637.4 106.6h0M640.4 105.3h0M640.2 110h0M640.3 144.3h0M642.7 107.6h0M642.7 112.5h0M642.7 109.4h0M642.7 111.3h0M645.2 105.9h0M645.4 111.6h0M645 111.6h0M645.1 149.9h0M647.6 105.6h0M647.9 112.4h0M650.3 108.5h0M650.1 107.5h0M650.3 148.2h0M652.6 105.1h0M652.8 146.3h0M655.3 104.4h0M655.5 108.3h0M655.6 106.7h0M658 102.2h0M658 110.5h0M657.8 107.4h0M660.3 99.8h0M660.2 98.2h0M660.4 103.4h0M665.5 148.7h0M665.7 148.3h0M668.1 147.2h0M668.2 147.6h0M673 117.2h0M673 144.3h0M675.4 115.2h0M678.1 108.4h0M678.3 111.6h0M680.8 110.6h0M680.5 145.8h0" stroke="#d83a62" stroke-opacity="0.6" stroke-width="4.2" stroke-linecap="round" fill="none"/>
<path d="M303.1 85.3h0M302.9 163h0M303.4 160h0M303.3 191.4h0M303 179h0M303.1 187.8h0M305.7 104.8h0M305.8 97.3h0M305.5 89.7h0M305.7 179h0M305.5 160.6h0M305.5 173.8h0M305.8 164.7h0M305.9 194.2h0M305.7 161.6h0M305.9 155.2h0M308.2 114h0M308.1 179.9h0M308.2 175.2h0M308.3 161.6h0M308.4 175.9h0M308.1 194.8h0M308.2 165.1h0M310.6 109.1h0M310.9 188.9h0M310.9 171.3h0M310.9 181.1h0M310.7 183.9h0M310.9 165.8h0M313.4 114.5h0M313.4 118.7h0M313.3 191.2h0M313.5 161.2h0M313.2 200.5h0M313.5 169.2h0M313.3 173h0M313.4 169.6h0M315.9 120.8h0M315.9 172.2h0M315.6 163.8h0M315.8 182.6h0M315.7 172.1h0M315.7 172.6h0M315.7 156.7h0M315.9 159.5h0M315.8 157.2h0M318.2 111.1h0M318.5 99.9h0M318.5 99.2h0M318.5 116.2h0M318.1 118.4h0M318.5 187.3h0M318.5 172.3h0M318.5 201.6h0M318.4 185.6h0M318.2 165.7h0M318.4 156.4h0M321 108.8h0M320.8 93.4h0M320.9 86.3h0M320.9 116.1h0M320.6 116.1h0M320.8 124.6h0M321.1 121.2h0M320.9 174h0M321 185.2h0M321.1 153.7h0M320.9 157.1h0M323.6 108.2h0M323.4 103.5h0M323.2 98.4h0M323.4 91.5h0M323.5 111.2h0M323.6 176.4h0M323.5 164.5h0M323.6 181.6h0M325.8 109.5h0M326 106.7h0M325.7 111.4h0M325.9 88.2h0M326.1 91.2h0M326.2 109.3h0M325.8 113.1h0M325.8 97.1h0M326.1 111.3h0M326.1 119.2h0M326 173.7h0M325.9 179.9h0M326.1 153.4h0M328.6 108.1h0M328.6 105h0M328.5 171.5h0M328.4 159.4h0M328.4 152.9h0M330.9 105.6h0M331.1 108.6h0M331.1 79h0M331.1 91.2h0M331.1 109.6h0M331 120.1h0M330.8 119.7h0M331.2 117.4h0M331.2 166.8h0M330.9 162h0M330.9 155.1h0M333.5 96.8h0M333.6 110.8h0M333.6 98.8h0M333.7 108.6h0M333.4 107.1h0M333.6 119.6h0M333.4 177.5h0M333.7 177.4h0M333.4 156.4h0M333.6 155.8h0M336 113.2h0M335.9 117.3h0M336.2 109.8h0M336.1 165h0M336.1 164h0M336 167.5h0M336.1 179.6h0M336 161.8h0M336 158.1h0M338.6 114.9h0M338.8 116.9h0M338.5 119.7h0M338.9 175.8h0M338.6 163h0M338.4 161.1h0M338.8 155.7h0M338.4 156.6h0M341.3 114.2h0M341.2 112.3h0M341.2 105.5h0M341.4 118.7h0M341 121.3h0M341.3 164.4h0M341 169.3h0M341 169.4h0M341.1 154.4h0M343.9 111.5h0M343.7 110.4h0M343.8 171h0M343.9 163.3h0M343.8 162h0M346.1 117.3h0M346.2 120.1h0M346.4 149.9h0M348.5 108.1h0M348.8 113.3h0M348.7 111.7h0M348.8 118.7h0M351.2 135.8h0M356.2 128.1h0M356.3 128.6h0M363.8 72h0M364.2 54.1h0M363.7 55.2h0M364 83.5h0M366.3 89.5h0M369.3 90.2h0M369.1 92.8h0M368.9 92.1h0M368.9 176.5h0M369.2 175.8h0M371.5 185.7h0M371.8 167.8h0M371.4 188.2h0M371.8 179.3h0M371.5 160.2h0M373.9 115h0M374.1 182.1h0M374.2 169.2h0M374 179.1h0M376.8 176.4h0M376.5 180.4h0M376.6 185.2h0M376.7 174.5h0M376.7 164.8h0M379.3 190.9h0M379.1 191.1h0M379.3 180.7h0M379 172.1h0M379 161h0M379.1 157.7h0M381.7 88.1h0M381.8 78.7h0M381.5 68.1h0M381.5 81.8h0M381.8 87.6h0M381.5 67.7h0M381.5 84.2h0M381.4 91.8h0M381.6 96.3h0M381.6 89.1h0M381.7 168.4h0M384.2 78.3h0M384 68.5h0M384.5 76.8h0M384.5 71.1h0M384.1 78.4h0M384.4 91.4h0M384.2 86.6h0M386.8 42.9h0M386.6 82.2h0M386.8 82.8h0M387 84.4h0M389.2 82.8h0M389.4 51.6h0M389.3 51.5h0M389.5 60.7h0M389.5 53h0M389.4 60.3h0M392.1 78.2h0M391.9 79.9h0M392 66.2h0M391.6 79.2h0M392 64h0M392 72.4h0M391.7 61h0M391.6 55.8h0M391.6 89.5h0M394.3 80h0M394.2 77.4h0M394.5 66.7h0M394.5 65h0M394.2 89.7h0M396.9 80.4h0M397 53.1h0M397.1 48.9h0M397 57h0M396.9 84.7h0M397.1 65.2h0M397.1 90.2h0M399.5 81.8h0M399.5 84.7h0M399.5 87.4h0M399.4 92.5h0M404.6 179h0M404.5 181.2h0M404.4 178.7h0M404.4 184.4h0M406.9 179.9h0M407.3 191.8h0M406.9 173.5h0M409.8 112.1h0M409.5 115.5h0M409.6 195.4h0M409.8 185.3h0M409.8 183.6h0M409.7 188.3h0M409.8 180.1h0M409.6 171.3h0M411.9 188.4h0M412.2 188.9h0M411.9 188.3h0M412.2 173.6h0M414.4 107h0M414.9 104.9h0M414.6 178.4h0M414.6 179.7h0M414.4 180.2h0M417.3 83.9h0M417.1 78.8h0M417 75.8h0M417.2 70h0M417.3 98.5h0M419.9 94.4h0M419.7 93h0M419.7 93.3h0M419.8 96.4h0M422.4 83.6h0M422.1 68.3h0M422.2 80.6h0M422.1 140.3h0M424.6 86.2h0M424.9 78.8h0M424.9 80.3h0M424.9 77.7h0M424.8 101.4h0M427.1 66.5h0M427.4 82.2h0M427.4 80.5h0M427.4 100.5h0M429.8 105.3h0M429.7 99.6h0M429.8 171.7h0M429.8 164h0M432.4 172.2h0M432.5 191h0M432.2 194.4h0M434.7 115.8h0M435.1 183.3h0M434.7 177.5h0M434.9 183.6h0M434.7 170.1h0M434.8 169.4h0M437.6 190.5h0M437.3 175.4h0M437.4 179.5h0M437.3 170.7h0M437.5 174.2h0M440.2 120.6h0M440.1 178.5h0M440 168.6h0M442.6 113.9h0M442.6 187h0M442.7 185h0M442.3 177.3h0M442.4 170.6h0M445.3 161.1h0M445.1 163.5h0M447.6 90.2h0M447.7 102.9h0M447.8 100.5h0M450.3 83.5h0M452.8 70.9h0M452.7 90.1h0M452.6 66.9h0M452.8 82.3h0M452.8 70.9h0M452.9 92.6h0M452.6 140.4h0M452.5 136.3h0M452.8 140.8h0M455.3 75.4h0M455.1 85.9h0M455.1 85.3h0M455.1 93.8h0M455.2 69.1h0M455 101.5h0M457.5 77.7h0M457.5 93.4h0M460.4 95.3h0M460.3 108.6h0M460 185.9h0M460 185.1h0M462.9 107.9h0M462.7 114.8h0M462.7 114.7h0M462.6 191.8h0M462.9 173.6h0M462.8 170.7h0M465.5 174.5h0M465.3 179.3h0M465.1 177.4h0M465.3 173.4h0M465.4 170.9h0M467.9 114.4h0M467.7 176.7h0M467.6 189.1h0M467.9 177.3h0M467.8 173.9h0M470.6 122h0M470.5 120.8h0M470.5 117.4h0M470.4 191h0M470.4 193.8h0M470.5 181h0M470.5 179.5h0M472.8 115.1h0M473.1 179.1h0M472.7 191.2h0M473 175.6h0M473.1 198.1h0M473 170h0M473.1 169.6h0M475.5 177.9h0M478 179.5h0M478.1 172.5h0M480.6 84h0M483 57.3h0M483 66.8h0M483.1 148.8h0M483.1 141.9h0M485.7 88h0M485.4 89.8h0M485.6 149.5h0M485.6 141.6h0M488.3 148.4h0M490.7 115.7h0M495.6 92.5h0M496 94.6h0M495.8 137.5h0M498.2 74.2h0M498.5 81.3h0M498.2 85.3h0M498.2 97.9h0M498.3 135h0M498.4 136.3h0M501 84.6h0M500.6 83.3h0M500.8 94.4h0M505.7 172.7h0M508.3 181.2h0M508.5 200.7h0M508.3 207.6h0M508.4 189.6h0M508.6 167.9h0M510.9 205.5h0M511.1 176h0M510.7 209.6h0M511.1 204.5h0M511 178.7h0M510.8 167.7h0M511 169.6h0M513.6 190.4h0M513.4 183.7h0M513.4 174.9h0M513.3 175h0M513.4 188h0M513.6 180.8h0M513.4 176.9h0M518.6 77h0M518.4 82.7h0M521.2 88.9h0M521.1 65.6h0M521.2 92h0M521.2 100h0M523.4 90h0M523.4 88.2h0M523.6 79.5h0M523.5 88.2h0M523.6 96h0M523.8 96.9h0M523.4 141h0M526.2 83.4h0M526.3 73.8h0M526.1 88.5h0M525.9 93.8h0M528.4 79.8h0M528.6 80.3h0M528.8 91.5h0M528.6 91.5h0M531.4 80h0M531 80.6h0M531.3 78.3h0M531 79.4h0M531.1 69.1h0M531.3 59.5h0M531 84.8h0M531.2 81h0M533.6 52h0M533.9 69.4h0M533.9 71.1h0M533.9 81.1h0M533.9 83.9h0M536 77.8h0M536.4 70.8h0M536.5 74.8h0M536.1 74.6h0M536.5 67.1h0M536.4 79.3h0M543.9 122.2h0M543.6 176.4h0M543.9 183.3h0M543.7 195h0M543.6 177h0M543.7 168.6h0M543.9 172.4h0M546.2 179.5h0M546.3 179.2h0M546.2 187.7h0M546.6 182.1h0M546.4 195.5h0M546.4 165.2h0M549.1 180.3h0M549.1 181.6h0M548.9 179.1h0M549 168.3h0M549 164.1h0M548.7 164h0M551.5 87.8h0M551.7 163.2h0M553.8 67.5h0M554 76.6h0M554.1 83.6h0M554.1 60.3h0M554 68h0M553.9 70.4h0M554.1 68.6h0M556.7 61.5h0M556.5 83.8h0M556.4 71.8h0M556.7 82.7h0M556.6 76.1h0M556.4 93.3h0M559 82.7h0M559 83.3h0M558.8 78.3h0M559.1 91.1h0M558.9 94.2h0M558.9 134.8h0M561.5 100.2h0M561.6 92.1h0M561.5 90.1h0M561.7 106.4h0M564.1 84.9h0M564.1 110.4h0M566.6 103.1h0M566.8 82.6h0M566.9 86.4h0M569 109.3h0M569.1 104.1h0M569.2 103.2h0M569.3 158.6h0M569.2 161.7h0M571.7 170.5h0M571.7 170.7h0M571.8 175.9h0M571.9 174.2h0M571.8 159.1h0M571.9 163.8h0M576.9 173.1h0M577 178.9h0M576.9 187.4h0M576.9 166.9h0M579.3 120.7h0M579.5 182.4h0M579.5 169.1h0M579.1 166.3h0M581.8 118.1h0M581.7 182h0M581.9 179.7h0M582 177.8h0M581.9 184.6h0M584.5 112.2h0M584.5 178.7h0M584.3 178.2h0M584.6 167h0M584.5 163.1h0M584.5 166.1h0M587.1 106.5h0M586.8 178.2h0M586.9 188.8h0M586.9 199.2h0M587.2 189.7h0M586.9 187.5h0M589.6 85.1h0M589.5 100.6h0M589.6 100.2h0M589.5 185.9h0M589.3 184h0M589.7 193.6h0M589.5 181.3h0M589.3 179.3h0M589.5 166.3h0M589.7 168.1h0M592.2 84.8h0M592.3 87.3h0M592.2 82.8h0M592.1 82.5h0M591.9 175h0M592 184.2h0M592.2 178.5h0M592 199.2h0M592.3 168.1h0M594.5 72.6h0M594.8 75h0M594.6 70.7h0M594.3 77.1h0M594.5 100.6h0M594.6 174.6h0M594.8 195.8h0M594.4 183.1h0M594.6 163.8h0M597.2 89h0M597 76h0M596.8 75.7h0M597.3 98h0M597.3 181.9h0M597.2 170.4h0M599.4 85.8h0M599.5 82h0M599.7 81h0M599.7 95.1h0M599.8 169.7h0M599.8 168h0M602.3 88.3h0M602.3 82.8h0M602.4 94.4h0M602.2 76.8h0M602.3 98.7h0M602 102.4h0M604.9 99.4h0M604.8 98h0M607 89h0M607.2 96h0M607.2 84.3h0M607.1 94.6h0M607.4 102.5h0M607 103.9h0M610 94.9h0M609.7 91.2h0M609.5 98.5h0M609.6 103.6h0M612.2 96.1h0M612.4 99.6h0M612.5 97.1h0M612.3 94.1h0M612.5 100.9h0M612.5 147h0M612.4 147.6h0M614.9 149h0M617.6 103.3h0M617.5 104.8h0M617.5 149h0M619.8 110.6h0M620.1 144.1h0M622.4 113.7h0M622.4 116.3h0M622.3 143.4h0M627.6 114.2h0M627.5 152.1h0M632.8 104.5h0M632.6 104.6h0M632.3 112.7h0M632.4 110.6h0M632.7 143.9h0M635 100.8h0M635.1 102.2h0M635.2 98.7h0M635.3 102.2h0M637.6 101.1h0M637.5 110.7h0M637.6 147.7h0M642.5 147.6h0M642.6 147.2h0M642.8 146.9h0M645 108.5h0M645.4 148.8h0M647.7 148.4h0M650.3 110.1h0M650.2 150.2h0M650.4 147.3h0M650.2 150.6h0M652.9 108.9h0M652.8 145.3h0M655.2 105.8h0M655.6 106.5h0M655.2 146.2h0M655.2 143.6h0M655.4 145.5h0M657.7 108.8h0M660.5 100.6h0M660.4 103.6h0M660.3 100.4h0M660.6 108.3h0M660.4 107.6h0M663.2 104.6h0M662.9 109.9h0M668.2 117.3h0M668.1 118.3h0M670.6 146.5h0M670.5 145.9h0M673.3 117.4h0M672.9 118.2h0M675.7 113.1h0M678.3 146.2h0M680.9 101.9h0M680.6 101.5h0" stroke="#d83a62" stroke-opacity="0.6" stroke-width="4.2" stroke-linecap="round" fill="none"/>
<path d="M303.1 92.9h0M303.2 97.8h0M302.9 82.5h0M303.1 115.9h0M303.2 191.2h0M303.4 164h0M303 165h0M302.9 173.2h0M303.2 174h0M303 152.8h0M305.7 107.2h0M305.9 100.5h0M305.9 115.7h0M305.7 109h0M305.6 113.8h0M305.8 207.7h0M305.6 174h0M305.5 164h0M305.7 172.2h0M305.8 168.5h0M305.8 167h0M305.8 173.7h0M305.6 188.2h0M308.2 109.3h0M308 116.9h0M308.1 163.1h0M308 199.6h0M308.4 179h0M308.2 161.9h0M308.1 176.7h0M308.2 153.2h0M308.3 159.6h0M310.5 163.5h0M310.8 193.8h0M310.6 180.4h0M310.7 171.7h0M310.7 159.2h0M313.3 110.3h0M313.1 122.3h0M313.1 122.2h0M313.3 173.9h0M313.5 186.5h0M313.3 169.2h0M313 189.4h0M313.5 180h0M313.3 200h0M313.3 166.2h0M313.5 181.9h0M313.3 175h0M313 157.6h0M313 158.3h0M315.6 115.4h0M315.8 109.9h0M315.7 118.9h0M316 187.7h0M315.7 180h0M318.4 117h0M318.2 124.1h0M318.5 195.6h0M318.4 164.6h0M318.3 169.8h0M318.4 167h0M318.5 152.1h0M318.5 155.8h0M320.9 112.3h0M321 105h0M320.7 115.9h0M320.7 122.3h0M321 161.8h0M321 159h0M321.1 163.2h0M321 196.3h0M320.7 169h0M320.9 171.4h0M320.8 200.3h0M321.1 160.8h0M320.9 188.7h0M323.4 114.4h0M323.5 123h0M323.6 184.1h0M323.3 176.5h0M323.5 189.7h0M323.6 172.4h0M323.6 187.4h0M323.4 173.8h0M323.5 177.1h0M323.6 171.1h0M323.2 153.3h0M326.1 105.4h0M326.1 113.7h0M326 110.2h0M325.9 114h0M326 163.2h0M325.8 171.9h0M326.1 152.5h0M328.2 115.7h0M328.6 110.1h0M328.3 88.8h0M328.4 100.1h0M328.4 162.6h0M328.5 175.6h0M328.4 165h0M328.4 179.3h0M328.2 153.6h0M328.5 156h0M331 100.5h0M330.8 109.6h0M330.9 102h0M331.1 107.4h0M330.9 110.7h0M330.8 116.5h0M330.9 124.4h0M331.1 172.1h0M330.8 166.7h0M331.2 159.5h0M333.4 109.8h0M333.5 109.1h0M333.3 89.3h0M333.4 110.7h0M333.4 177.4h0M333.7 160.8h0M333.7 174.2h0M336.1 113.5h0M336.1 108.6h0M336.1 95.3h0M336 124.1h0M336 121.6h0M336.3 158.4h0M338.8 117.5h0M338.6 110.6h0M338.6 118h0M338.5 118.9h0M338.4 160.6h0M338.5 169h0M338.8 169.5h0M338.8 159.6h0M338.4 156.9h0M338.8 152.9h0M340.9 117.5h0M341 165.8h0M341 164.1h0M341.1 166.4h0M341.1 158.6h0M343.8 119.3h0M343.8 180.5h0M343.5 158.4h0M343.7 160.8h0M343.5 148.2h0M346 113.6h0M346.1 113.6h0M346.2 115.6h0M348.8 103.1h0M348.8 118.2h0M351.2 112.9h0M351 112.1h0M351.1 118.9h0M351.3 121.1h0M351.3 121h0M351.3 136h0M351.2 137.7h0M351.4 137.7h0M353.7 117.5h0M353.9 115.8h0M354 122.8h0M353.6 122h0M363.7 78.4h0M363.9 52.3h0M363.7 74.4h0M363.8 82.6h0M366.3 67.3h0M366.3 83.3h0M366.7 77.4h0M366.4 85.6h0M369 89.4h0M369.1 88.8h0M369 176.3h0M368.8 169.9h0M369 163.4h0M369.1 174.2h0M368.9 178.6h0M368.8 176.2h0M368.8 170h0M369.2 163h0M371.8 180.3h0M371.7 181h0M371.4 191.7h0M374.2 117.3h0M374 173.4h0M373.9 171.8h0M374.3 190.7h0M374.1 166.9h0M374.3 175.7h0M374.2 165.3h0M376.7 170.1h0M376.5 173.4h0M376.7 167.3h0M376.7 178h0M376.8 176.8h0M376.6 183h0M376.5 162.4h0M379.1 171.2h0M379.2 189.4h0M379.2 169.9h0M379.2 176h0M379 172.5h0M381.8 82.1h0M381.5 72.6h0M381.8 171.4h0M381.5 167h0M381.8 153.9h0M381.5 155.3h0M384.3 81.5h0M384.3 58.3h0M384.3 47.1h0M384.3 80.7h0M384.1 78.4h0M387 59.8h0M386.6 68.1h0M386.7 88.5h0M389.3 79.7h0M389.3 75.9h0M389.5 85.4h0M389.2 91.5h0M391.8 56.7h0M392 83.7h0M392 63.8h0M392 71.7h0M391.8 84.9h0M394.6 74.4h0M394.2 75.4h0M394.4 79.9h0M394.6 74.8h0M394.5 74.2h0M394.4 77.2h0M394.3 88.6h0M396.8 58.3h0M396.7 85.2h0M396.8 70.8h0M396.9 84.6h0M397 89.8h0M396.7 134.8h0M399.2 77.4h0M399.2 86.7h0M399.2 68.5h0M399.3 64.8h0M399.6 60.7h0M399.6 90.4h0M404.3 182.9h0M406.8 191.2h0M406.8 188.5h0M407.2 180.9h0M407.1 184.1h0M407.2 172.7h0M406.8 176.3h0M409.6 114.3h0M409.4 190.7h0M409.3 177.5h0M409.7 173.3h0M412.1 192.5h0M412.2 171.6h0M414.5 100.8h0M414.6 100.2h0M414.7 178h0M414.6 180.5h0M414.8 175.3h0M414.7 172.4h0M417.3 83.9h0M417.1 82.3h0M419.9 92.4h0M419.7 89h0M419.9 78.8h0M419.5 97.3h0M419.7 101.7h0M422.4 66.8h0M422.4 89.5h0M422.2 92.5h0M422.4 82.8h0M422 92.5h0M424.8 86.9h0M424.9 87.9h0M427.3 85.8h0M427.3 91.5h0M427.3 92.2h0M427.3 86.4h0M427.3 92.1h0M427.4 98.9h0M429.6 93.2h0M429.7 97.6h0M429.8 160.8h0M429.9 164.2h0M432.4 107.7h0M432.6 184.9h0M432.3 185.7h0M432.3 169.3h0M432.5 167.1h0M434.8 114.3h0M435 178.3h0M434.8 193.5h0M434.7 184.5h0M435 179.3h0M435 175.6h0M435.1 188.5h0M437.2 115h0M437.4 117.5h0M437.4 184h0M437.5 185h0M437.4 189.6h0M437.3 167.6h0M437.4 167.9h0M439.8 191.4h0M439.8 192.4h0M440 173.9h0M439.7 193.4h0M439.8 192.9h0M442.4 178.3h0M442.3 191.5h0M442.5 166.8h0M445.2 170.3h0M445.1 169.5h0M447.6 94.3h0M447.6 90.1h0M447.8 81.3h0M447.5 102.9h0M447.3 102.8h0M450.1 68.5h0M450.2 93.9h0M450 82.4h0M449.9 83.8h0M450.3 66.3h0M450.2 100.9h0M449.9 96.4h0M452.6 74.7h0M452.6 64.6h0M452.7 87.3h0M452.9 77.4h0M452.8 93.5h0M455.3 77.4h0M455.1 81.5h0M455.3 74.1h0M455.3 75.4h0M455.1 98.7h0M457.5 83.5h0M457.8 78.1h0M457.5 95.3h0M457.9 91.8h0M460.2 101.2h0M460.2 98.5h0M460.5 107.2h0M460.3 184.4h0M460.2 174.6h0M460.1 181h0M460.4 171.3h0M462.9 179.5h0M465.4 183.5h0M465.4 191.9h0M465.3 177.7h0M465.2 170.8h0M465.1 171.2h0M467.8 184.9h0M467.8 167.5h0M470.5 182.5h0M470.6 180.2h0M470.5 188.6h0M470.2 172.5h0M470.5 166.3h0M472.7 118.1h0M472.8 186.6h0M473 177.6h0M473 173.9h0M473.1 174.1h0M475.7 174.6h0M475.3 185.1h0M475.3 179.4h0M478.2 165.4h0M478.1 165.4h0M480.6 83.1h0M483.1 69.4h0M482.9 61.6h0M483.1 74.4h0M483.1 66.4h0M483 69.6h0M482.9 78.8h0M483 83.2h0M483 83.1h0M483.2 81h0M483.1 147.6h0M482.9 147.1h0M485.6 89.2h0M485.5 141.1h0M485.5 142h0M488.1 148.7h0M490.8 113.5h0M490.6 115.2h0M495.7 83.8h0M495.9 86h0M495.9 94.9h0M495.7 136.7h0M500.7 79.6h0M500.8 72.7h0M501 73.3h0M500.7 90h0M501 97.2h0M501 91.7h0M505.6 190.1h0M505.6 182.1h0M506 200.4h0M508.5 123.7h0M508.4 122.5h0M508.6 202.1h0M508.3 203h0M508.6 186.7h0M508.5 201.4h0M508.3 208.2h0M508.2 180.5h0M508.3 177.6h0M508.3 167.6h0M508.5 173.7h0M508.2 172.5h0M510.8 198.6h0M510.8 178.3h0M511.1 207.6h0M510.7 180.2h0M511 168.8h0M513.6 179.5h0M513.7 176.1h0M513.4 185.8h0M513.4 172.6h0M513.4 166.8h0M516 168.4h0M518.5 71.9h0M518.4 76.8h0M518.7 86.3h0M518.6 92.5h0M518.8 95.4h0M521.3 74.6h0M521.1 69.5h0M520.9 91.4h0M520.9 85h0M521 87h0M520.9 89.5h0M523.5 71.9h0M523.5 85.8h0M526.3 92.3h0M525.9 95.9h0M528.7 80.5h0M528.8 79h0M528.8 81h0M528.9 80h0M528.9 80.2h0M528.8 71.8h0M528.7 76.2h0M528.7 132h0M528.8 131h0M531 55.1h0M531.4 78.4h0M531.1 74.3h0M531.4 67.8h0M531 87.8h0M531.1 132.1h0M533.5 65.2h0M533.5 55.2h0M533.8 61.7h0M533.9 78.2h0M536.1 67.9h0M536.1 66.2h0M538.8 170.9h0M541.4 178h0M541.4 173.8h0M541.4 187.1h0M541.2 185.6h0M541.3 178.1h0M541.3 180.5h0M543.8 122h0M543.6 189.5h0M543.9 185.6h0M543.9 190h0M546.6 189h0M546.3 175.9h0M546.3 174.3h0M549.1 194.4h0M548.8 173.3h0M549.1 183.3h0M549.2 192.7h0M548.9 165.8h0M551.6 88.7h0M551.5 85.1h0M551.4 83.3h0M551.5 80.2h0M551.6 89.8h0M551.4 95.6h0M553.8 73.3h0M554 86h0M553.8 70.4h0M554 84.6h0M554.1 95.9h0M556.8 65.5h0M556.6 92.9h0M556.6 90.3h0M559 85.5h0M559.1 96.6h0M559 136.4h0M561.6 95.5h0M561.6 102.8h0M564.2 93.5h0M564 97.4h0M564.1 99h0M564.3 109.4h0M566.8 99.9h0M566.7 93.5h0M566.7 90.6h0M566.6 110.1h0M566.6 111.9h0M569.1 166h0M571.7 175.8h0M574.1 175h0M574.3 177.9h0M574.3 185.9h0M574.1 162.9h0M574.4 161.2h0M577 171.2h0M577 189.6h0M576.6 181.7h0M576.8 178.4h0M576.9 167.5h0M579.1 188.5h0M579.5 167.5h0M579.3 167.2h0M579.4 168.5h0M582 117h0M581.9 168.5h0M581.9 163h0M584.6 177.9h0M584.6 188.7h0M584.5 187.9h0M584.6 170.3h0M587.2 100.4h0M586.9 110.1h0M586.7 103.3h0M586.8 107.2h0M586.8 172.2h0M586.9 193.1h0M586.8 198h0M586.7 187.5h0M586.9 186.9h0M586.8 165.4h0M587 169h0M589.6 95.8h0M589.5 96h0M589.5 95.6h0M589.7 86h0M589.3 93.7h0M589.6 96.6h0M589.6 105.6h0M589.4 103.1h0M589.7 190.8h0M589.4 174.2h0M589.6 185.5h0M589.6 190.9h0M591.9 87.4h0M592 86h0M592.2 170.3h0M591.8 174h0M591.9 172.6h0M592.1 187.2h0M591.8 201.1h0M592.1 186.5h0M592 162h0M594.3 90.2h0M594.4 73.7h0M594.5 80.4h0M594.4 179.4h0M594.7 196.3h0M594.7 175.2h0M594.6 194.3h0M594.7 185.1h0M594.4 173.5h0M594.6 189.9h0M594.5 161.9h0M596.9 80.5h0M596.9 81.7h0M596.9 192h0M597.1 174.6h0M597.1 188.7h0M597.3 178.5h0M599.7 86.4h0M599.8 90.4h0M599.6 101.2h0M599.8 101h0M599.7 168.8h0M602.1 76.1h0M604.8 92h0M604.9 87.8h0M604.5 94h0M604.9 88.6h0M604.9 102.1h0M604.6 141h0M607.3 101.4h0M612.4 94h0M612.5 106.7h0M615 93.6h0M615.1 101.5h0M615 105.6h0M614.7 101.9h0M614.9 144.6h0M617.5 100.8h0M617.5 102.7h0M617.3 110h0M617.4 145.5h0M620 111.9h0M622.6 118.5h0M624.9 119.8h0M627.3 117h0M627.6 156.7h0M627.6 149.4h0M630 109.5h0M629.8 112.8h0M630 145.6h0M629.8 147.7h0M629.8 148.5h0M632.5 106.7h0M632.5 148.7h0M635.1 101.1h0M635.2 145.1h0M634.9 149h0M637.4 100.3h0M637.5 103.1h0M637.5 105.2h0M640 102.4h0M640 108.5h0M640.4 107.8h0M640 149.2h0M642.6 104.5h0M642.6 105.5h0M645.3 149.1h0M645 146.3h0M647.7 104.5h0M647.8 109.5h0M647.8 149h0M652.7 104.8h0M652.6 103.3h0M653 107.1h0M655.2 104.2h0M655.3 112.6h0M655.1 143.9h0M657.9 104.3h0M658 145.8h0M660.4 111.3h0M660.2 108.6h0M663 110.5h0M665.5 149h0M668.1 147.6h0M672.9 144.3h0M678 102.6h0M678 114.9h0M678 145.1h0M680.5 112.5h0M680.7 113.7h0" stroke="#d83a62" stroke-opacity="0.6" stroke-width="4.2" stroke-linecap="round" fill="none"/>
</g>
<rect x="302" y="122.9" width="4" height="4" fill="#8a6ee0"/><rect x="307" y="134.7" width="4" height="4" fill="#8a6ee0"/><rect x="305.5" y="139.4" width="4" height="4" fill="#8a6ee0"/><rect x="304" y="126.2" width="4" height="4" fill="#8a6ee0"/><rect x="310.5" y="127.4" width="4" height="4" fill="#8a6ee0"/><rect x="313" y="127.4" width="4" height="4" fill="#8a6ee0"/><rect x="316" y="127.4" width="4" height="4" fill="#8a6ee0"/><rect x="318.5" y="126.4" width="4" height="4" fill="#8a6ee0"/><rect x="321" y="128.5" width="4" height="4" fill="#8a6ee0"/><rect x="323.5" y="128.5" width="4" height="4" fill="#8a6ee0"/><rect x="326" y="128.5" width="4" height="4" fill="#8a6ee0"/><rect x="329" y="129.3" width="4" height="4" fill="#8a6ee0"/><rect x="332" y="129.3" width="4" height="4" fill="#8a6ee0"/><rect x="335" y="129.3" width="4" height="4" fill="#8a6ee0"/><rect x="338" y="129.3" width="4" height="4" fill="#8a6ee0"/><rect x="341" y="129.3" width="4" height="4" fill="#8a6ee0"/><rect x="343.5" y="129.3" width="4" height="4" fill="#8a6ee0"/><rect x="356.6" y="135.2" width="4" height="4" fill="#8a6ee0"/><rect x="358.6" y="117.5" width="4" height="4" fill="#8a6ee0"/><rect x="363.6" y="114.9" width="4" height="4" fill="#8a6ee0"/><rect x="361.6" y="103.6" width="4" height="4" fill="#8a6ee0"/><rect x="384.6" y="106.6" width="4" height="4" fill="#8a6ee0"/><rect x="387" y="111.6" width="4" height="4" fill="#8a6ee0"/><rect x="376.9" y="116.3" width="4" height="4" fill="#8a6ee0"/><rect x="379.5" y="113.9" width="4" height="4" fill="#8a6ee0"/><rect x="382" y="119.5" width="4" height="4" fill="#8a6ee0"/><rect x="389.6" y="124.5" width="4" height="4" fill="#8a6ee0"/><rect x="393" y="123.8" width="4" height="4" fill="#8a6ee0"/><rect x="395.6" y="125" width="4" height="4" fill="#8a6ee0"/><rect x="399.4" y="126.4" width="4" height="4" fill="#8a6ee0"/><rect x="402.7" y="123.6" width="4" height="4" fill="#8a6ee0"/><rect x="406" y="122.7" width="4" height="4" fill="#8a6ee0"/><rect x="409.5" y="120.4" width="4" height="4" fill="#8a6ee0"/><rect x="419.8" y="122.9" width="4" height="4" fill="#8a6ee0"/><rect x="425" y="119" width="4" height="4" fill="#8a6ee0"/><rect x="428" y="122" width="4" height="4" fill="#8a6ee0"/><rect x="397.4" y="136.3" width="4" height="4" fill="#8a6ee0"/><rect x="412.5" y="135.6" width="4" height="4" fill="#8a6ee0"/><rect x="417.6" y="138.4" width="4" height="4" fill="#8a6ee0"/><rect x="415" y="145.8" width="4" height="4" fill="#8a6ee0"/><rect x="374.5" y="150.7" width="4" height="4" fill="#8a6ee0"/><rect x="366.5" y="156" width="4" height="4" fill="#8a6ee0"/><rect x="368.5" y="160.6" width="4" height="4" fill="#8a6ee0"/><rect x="370.5" y="164" width="4" height="4" fill="#8a6ee0"/><rect x="438.5" y="148.6" width="4" height="4" fill="#8a6ee0"/><rect x="445.7" y="115.3" width="4" height="4" fill="#8a6ee0"/><rect x="442" y="143" width="4" height="4" fill="#8a6ee0"/><rect x="446.5" y="110" width="4" height="4" fill="#8a6ee0"/><rect x="458" y="149" width="4" height="4" fill="#8a6ee0"/><rect x="461.1" y="159.6" width="4" height="4" fill="#8a6ee0"/><rect x="463.4" y="162.4" width="4" height="4" fill="#8a6ee0"/><rect x="480.6" y="110.3" width="4" height="4" fill="#8a6ee0"/><rect x="486" y="135.8" width="4" height="4" fill="#8a6ee0"/><rect x="497" y="134" width="4" height="4" fill="#8a6ee0"/><rect x="508.8" y="134.9" width="4" height="4" fill="#8a6ee0"/><rect x="513.3" y="138.5" width="4" height="4" fill="#8a6ee0"/><rect x="516" y="122.1" width="4" height="4" fill="#8a6ee0"/><rect x="519.7" y="124" width="4" height="4" fill="#8a6ee0"/><rect x="527" y="123" width="4" height="4" fill="#8a6ee0"/><rect x="521.5" y="136.7" width="4" height="4" fill="#8a6ee0"/><rect x="532.5" y="148.5" width="4" height="4" fill="#8a6ee0"/><rect x="478.7" y="154" width="4" height="4" fill="#8a6ee0"/><rect x="534.3" y="112.1" width="4" height="4" fill="#8a6ee0"/><rect x="541" y="117" width="4" height="4" fill="#8a6ee0"/><rect x="554" y="121.4" width="4" height="4" fill="#8a6ee0"/><rect x="543.9" y="138.6" width="4" height="4" fill="#8a6ee0"/><rect x="542.6" y="146.6" width="4" height="4" fill="#8a6ee0"/><rect x="531.4" y="149.2" width="4" height="4" fill="#8a6ee0"/><rect x="545.5" y="149" width="4" height="4" fill="#8a6ee0"/><rect x="646.5" y="115" width="4" height="4" fill="#8a6ee0"/><rect x="644" y="117.7" width="4" height="4" fill="#8a6ee0"/><rect x="650.7" y="121.4" width="4" height="4" fill="#8a6ee0"/><rect x="655.5" y="123.5" width="4" height="4" fill="#8a6ee0"/><rect x="658" y="124.5" width="4" height="4" fill="#8a6ee0"/><rect x="660.5" y="125.5" width="4" height="4" fill="#8a6ee0"/><rect x="663" y="126.5" width="4" height="4" fill="#8a6ee0"/><rect x="665.5" y="127.3" width="4" height="4" fill="#8a6ee0"/><rect x="668" y="127.8" width="4" height="4" fill="#8a6ee0"/><rect x="671" y="128.3" width="4" height="4" fill="#8a6ee0"/><rect x="674" y="128.8" width="4" height="4" fill="#8a6ee0"/><rect x="635.9" y="133.3" width="4" height="4" fill="#8a6ee0"/><rect x="632.9" y="126.6" width="4" height="4" fill="#8a6ee0"/><rect x="653.7" y="138.5" width="4" height="4" fill="#8a6ee0"/><rect x="638.5" y="148.2" width="4" height="4" fill="#8a6ee0"/><rect x="450.9" y="99.9" width="4" height="4" fill="#8a6ee0"/><rect x="455.5" y="103.8" width="4" height="4" fill="#8a6ee0"/><rect x="483.4" y="100.8" width="4" height="4" fill="#8a6ee0"/><rect x="478.5" y="154" width="4" height="4" fill="#8a6ee0"/><rect x="476.2" y="166.6" width="4" height="4" fill="#8a6ee0"/><rect x="465.7" y="175.2" width="4" height="4" fill="#8a6ee0"/><rect x="472" y="175.2" width="4" height="4" fill="#8a6ee0"/><rect x="469" y="178.5" width="4" height="4" fill="#8a6ee0"/><rect x="468" y="182.1" width="4" height="4" fill="#8a6ee0"/><rect x="486.1" y="135.7" width="4" height="4" fill="#8a6ee0"/><rect x="494.3" y="134.1" width="4" height="4" fill="#8a6ee0"/><rect x="517.4" y="122.3" width="4" height="4" fill="#8a6ee0"/><rect x="552.1" y="121.2" width="4" height="4" fill="#8a6ee0"/><rect x="555.9" y="124.2" width="4" height="4" fill="#8a6ee0"/><rect x="508.8" y="134.4" width="4" height="4" fill="#8a6ee0"/><rect x="521.1" y="135.6" width="4" height="4" fill="#8a6ee0"/><rect x="544" y="139.3" width="4" height="4" fill="#8a6ee0"/><rect x="531.3" y="149" width="4" height="4" fill="#8a6ee0"/>
<rect x="364" y="129.6" width="4" height="4" fill="#e8a838"/><rect x="367" y="129.6" width="4" height="4" fill="#e8a838"/><rect x="369.5" y="129.4" width="4" height="4" fill="#e8a838"/><rect x="372" y="129.4" width="4" height="4" fill="#e8a838"/><rect x="374.5" y="129.2" width="4" height="4" fill="#e8a838"/><rect x="377" y="129.2" width="4" height="4" fill="#e8a838"/><rect x="421.4" y="114.6" width="4" height="4" fill="#e8a838"/><rect x="423.8" y="113.8" width="4" height="4" fill="#e8a838"/><rect x="426.3" y="112" width="4" height="4" fill="#e8a838"/><rect x="428.8" y="109.8" width="4" height="4" fill="#e8a838"/><rect x="431.3" y="107.7" width="4" height="4" fill="#e8a838"/><rect x="439.7" y="121.1" width="4" height="4" fill="#e8a838"/><rect x="442.6" y="124" width="4" height="4" fill="#e8a838"/><rect x="445" y="121.1" width="4" height="4" fill="#e8a838"/><rect x="447.9" y="120" width="4" height="4" fill="#e8a838"/><rect x="450.2" y="120.5" width="4" height="4" fill="#e8a838"/><rect x="452.5" y="123.4" width="4" height="4" fill="#e8a838"/><rect x="454.8" y="126.3" width="4" height="4" fill="#e8a838"/><rect x="457.1" y="127.5" width="4" height="4" fill="#e8a838"/><rect x="460.6" y="128.1" width="4" height="4" fill="#e8a838"/><rect x="464.1" y="128.1" width="4" height="4" fill="#e8a838"/><rect x="467.6" y="128.4" width="4" height="4" fill="#e8a838"/><rect x="471" y="128.7" width="4" height="4" fill="#e8a838"/><rect x="474.5" y="128.3" width="4" height="4" fill="#e8a838"/><rect x="477.4" y="127.8" width="4" height="4" fill="#e8a838"/><rect x="480" y="127.5" width="4" height="4" fill="#e8a838"/><rect x="483" y="129.2" width="4" height="4" fill="#e8a838"/><rect x="486" y="129.4" width="4" height="4" fill="#e8a838"/><rect x="488.5" y="129.5" width="4" height="4" fill="#e8a838"/><rect x="491" y="129.4" width="4" height="4" fill="#e8a838"/><rect x="494" y="129.3" width="4" height="4" fill="#e8a838"/><rect x="496.5" y="129.2" width="4" height="4" fill="#e8a838"/><rect x="499" y="129.1" width="4" height="4" fill="#e8a838"/><rect x="501.5" y="129" width="4" height="4" fill="#e8a838"/><rect x="504" y="128.9" width="4" height="4" fill="#e8a838"/><rect x="506.5" y="128.8" width="4" height="4" fill="#e8a838"/><rect x="509" y="128.8" width="4" height="4" fill="#e8a838"/><rect x="511.5" y="128.7" width="4" height="4" fill="#e8a838"/><rect x="514" y="128.6" width="4" height="4" fill="#e8a838"/><rect x="516.5" y="128.5" width="4" height="4" fill="#e8a838"/><rect x="519" y="128.5" width="4" height="4" fill="#e8a838"/><rect x="521.5" y="128.4" width="4" height="4" fill="#e8a838"/><rect x="530.6" y="114.8" width="4" height="4" fill="#e8a838"/><rect x="534.6" y="117.4" width="4" height="4" fill="#e8a838"/><rect x="538.6" y="120.1" width="4" height="4" fill="#e8a838"/><rect x="541.2" y="132" width="4" height="4" fill="#e8a838"/><rect x="543.9" y="143.9" width="4" height="4" fill="#e8a838"/><rect x="546.5" y="114" width="4" height="4" fill="#e8a838"/><rect x="549" y="115" width="4" height="4" fill="#e8a838"/><rect x="551.5" y="115.5" width="4" height="4" fill="#e8a838"/><rect x="554.5" y="113.5" width="4" height="4" fill="#e8a838"/><rect x="557" y="106.8" width="4" height="4" fill="#e8a838"/><rect x="430" y="147.5" width="4" height="4" fill="#e8a838"/><rect x="432.5" y="146.4" width="4" height="4" fill="#e8a838"/><rect x="435" y="144" width="4" height="4" fill="#e8a838"/><rect x="438" y="142" width="4" height="4" fill="#e8a838"/><rect x="562.1" y="130.5" width="4" height="4" fill="#e8a838"/><rect x="564.7" y="130.5" width="4" height="4" fill="#e8a838"/><rect x="567.2" y="130.5" width="4" height="4" fill="#e8a838"/><rect x="569.7" y="130.5" width="4" height="4" fill="#e8a838"/><rect x="572.3" y="130.5" width="4" height="4" fill="#e8a838"/><rect x="574.8" y="130.5" width="4" height="4" fill="#e8a838"/><rect x="577.3" y="130.5" width="4" height="4" fill="#e8a838"/><rect x="579.9" y="130.5" width="4" height="4" fill="#e8a838"/><rect x="582.4" y="130.5" width="4" height="4" fill="#e8a838"/><rect x="584.9" y="130.5" width="4" height="4" fill="#e8a838"/><rect x="587.5" y="130.5" width="4" height="4" fill="#e8a838"/><rect x="590" y="130.5" width="4" height="4" fill="#e8a838"/><rect x="592.5" y="130.5" width="4" height="4" fill="#e8a838"/><rect x="595.1" y="130.5" width="4" height="4" fill="#e8a838"/><rect x="597.6" y="130.5" width="4" height="4" fill="#e8a838"/><rect x="600.1" y="130.5" width="4" height="4" fill="#e8a838"/><rect x="602.7" y="130.5" width="4" height="4" fill="#e8a838"/><rect x="605.2" y="129.2" width="4" height="4" fill="#e8a838"/><rect x="607.7" y="129.2" width="4" height="4" fill="#e8a838"/><rect x="610.3" y="129.2" width="4" height="4" fill="#e8a838"/><rect x="612.8" y="129.2" width="4" height="4" fill="#e8a838"/><rect x="615.4" y="129.2" width="4" height="4" fill="#e8a838"/><rect x="617.9" y="129.2" width="4" height="4" fill="#e8a838"/><rect x="620.4" y="129.2" width="4" height="4" fill="#e8a838"/><rect x="623" y="129.2" width="4" height="4" fill="#e8a838"/><rect x="625.5" y="129.5" width="4" height="4" fill="#e8a838"/><rect x="628" y="129" width="4" height="4" fill="#e8a838"/><rect x="630.6" y="128.5" width="4" height="4" fill="#e8a838"/><rect x="633.1" y="128" width="4" height="4" fill="#e8a838"/><rect x="635.6" y="127.5" width="4" height="4" fill="#e8a838"/><rect x="645.8" y="129.2" width="4" height="4" fill="#e8a838"/><rect x="648.3" y="129.2" width="4" height="4" fill="#e8a838"/><rect x="650.8" y="129.2" width="4" height="4" fill="#e8a838"/><rect x="653.4" y="129.2" width="4" height="4" fill="#e8a838"/><rect x="655.9" y="129.2" width="4" height="4" fill="#e8a838"/><rect x="658.4" y="129.2" width="4" height="4" fill="#e8a838"/><rect x="661" y="129.2" width="4" height="4" fill="#e8a838"/><rect x="663.5" y="129.2" width="4" height="4" fill="#e8a838"/><rect x="666" y="129.2" width="4" height="4" fill="#e8a838"/><rect x="668.6" y="129.2" width="4" height="4" fill="#e8a838"/><rect x="671.1" y="129.2" width="4" height="4" fill="#e8a838"/><rect x="673.6" y="129.2" width="4" height="4" fill="#e8a838"/><rect x="676.2" y="129.2" width="4" height="4" fill="#e8a838"/><rect x="678.7" y="129.2" width="4" height="4" fill="#e8a838"/><rect x="638" y="120" width="4" height="4" fill="#e8a838"/><rect x="640.7" y="117.5" width="4" height="4" fill="#e8a838"/><rect x="643.5" y="126.5" width="4" height="4" fill="#e8a838"/>
<rect x="301.1" y="130.8" width="4" height="4" fill="#9ccc3c"/><rect x="303.7" y="130.8" width="4" height="4" fill="#9ccc3c"/><rect x="306.2" y="130.8" width="4" height="4" fill="#9ccc3c"/><rect x="308.7" y="130.8" width="4" height="4" fill="#9ccc3c"/><rect x="311.3" y="130.8" width="4" height="4" fill="#9ccc3c"/><rect x="313.8" y="130.8" width="4" height="4" fill="#9ccc3c"/><rect x="316.3" y="130.8" width="4" height="4" fill="#9ccc3c"/><rect x="318.9" y="130.8" width="4" height="4" fill="#9ccc3c"/><rect x="321.4" y="130.8" width="4" height="4" fill="#9ccc3c"/><rect x="323.9" y="130.8" width="4" height="4" fill="#9ccc3c"/><rect x="326.5" y="130.8" width="4" height="4" fill="#9ccc3c"/><rect x="329" y="130.8" width="4" height="4" fill="#9ccc3c"/><rect x="331.5" y="130.8" width="4" height="4" fill="#9ccc3c"/><rect x="334.1" y="130.8" width="4" height="4" fill="#9ccc3c"/><rect x="336.6" y="130.8" width="4" height="4" fill="#9ccc3c"/><rect x="339.1" y="130.8" width="4" height="4" fill="#9ccc3c"/><rect x="341.7" y="130.8" width="4" height="4" fill="#9ccc3c"/><rect x="344.2" y="130.8" width="4" height="4" fill="#9ccc3c"/><rect x="346.7" y="130.8" width="4" height="4" fill="#9ccc3c"/><rect x="349.3" y="130.8" width="4" height="4" fill="#9ccc3c"/><rect x="351.8" y="130.8" width="4" height="4" fill="#9ccc3c"/><rect x="354.3" y="130.8" width="4" height="4" fill="#9ccc3c"/><rect x="356.9" y="130.8" width="4" height="4" fill="#9ccc3c"/><rect x="359.4" y="130.8" width="4" height="4" fill="#9ccc3c"/><rect x="362" y="130.8" width="4" height="4" fill="#9ccc3c"/><rect x="364.5" y="132.6" width="4" height="4" fill="#9ccc3c"/><rect x="367" y="132.6" width="4" height="4" fill="#9ccc3c"/><rect x="369.6" y="132.6" width="4" height="4" fill="#9ccc3c"/><rect x="372.1" y="132.6" width="4" height="4" fill="#9ccc3c"/><rect x="374.6" y="132.6" width="4" height="4" fill="#9ccc3c"/><rect x="377.2" y="132.6" width="4" height="4" fill="#9ccc3c"/><rect x="379.7" y="132.6" width="4" height="4" fill="#9ccc3c"/><rect x="382.2" y="130.5" width="4" height="4" fill="#9ccc3c"/><rect x="384.8" y="130.5" width="4" height="4" fill="#9ccc3c"/><rect x="387.3" y="130.5" width="4" height="4" fill="#9ccc3c"/><rect x="389.8" y="130.5" width="4" height="4" fill="#9ccc3c"/><rect x="392.4" y="130.5" width="4" height="4" fill="#9ccc3c"/><rect x="394.9" y="130.5" width="4" height="4" fill="#9ccc3c"/><rect x="397.4" y="130.5" width="4" height="4" fill="#9ccc3c"/><rect x="400" y="130.5" width="4" height="4" fill="#9ccc3c"/><rect x="402.5" y="130.5" width="4" height="4" fill="#9ccc3c"/><rect x="405" y="130.5" width="4" height="4" fill="#9ccc3c"/><rect x="407.6" y="130.5" width="4" height="4" fill="#9ccc3c"/><rect x="410.1" y="130.5" width="4" height="4" fill="#9ccc3c"/><rect x="412.6" y="130.5" width="4" height="4" fill="#9ccc3c"/><rect x="415.2" y="130.5" width="4" height="4" fill="#9ccc3c"/><rect x="417.7" y="130.5" width="4" height="4" fill="#9ccc3c"/><rect x="420.2" y="130.5" width="4" height="4" fill="#9ccc3c"/><rect x="422.8" y="144.3" width="4" height="4" fill="#9ccc3c"/><rect x="425.3" y="144.3" width="4" height="4" fill="#9ccc3c"/><rect x="427.8" y="144.3" width="4" height="4" fill="#9ccc3c"/><rect x="430.4" y="140.9" width="4" height="4" fill="#9ccc3c"/><rect x="432.9" y="140" width="4" height="4" fill="#9ccc3c"/><rect x="435.4" y="139.1" width="4" height="4" fill="#9ccc3c"/><rect x="438" y="138.2" width="4" height="4" fill="#9ccc3c"/><rect x="440.5" y="138.5" width="4" height="4" fill="#9ccc3c"/><rect x="443" y="138.5" width="4" height="4" fill="#9ccc3c"/><rect x="445.6" y="138.5" width="4" height="4" fill="#9ccc3c"/><rect x="448.1" y="138.5" width="4" height="4" fill="#9ccc3c"/><rect x="450.6" y="133.5" width="4" height="4" fill="#9ccc3c"/><rect x="453.2" y="130.5" width="4" height="4" fill="#9ccc3c"/><rect x="455.7" y="137.3" width="4" height="4" fill="#9ccc3c"/><rect x="458.2" y="136.6" width="4" height="4" fill="#9ccc3c"/><rect x="460.8" y="135.9" width="4" height="4" fill="#9ccc3c"/><rect x="463.3" y="135.3" width="4" height="4" fill="#9ccc3c"/><rect x="465.8" y="134.6" width="4" height="4" fill="#9ccc3c"/><rect x="468.4" y="134.2" width="4" height="4" fill="#9ccc3c"/><rect x="470.9" y="134.2" width="4" height="4" fill="#9ccc3c"/><rect x="473.4" y="134.2" width="4" height="4" fill="#9ccc3c"/><rect x="476" y="134.2" width="4" height="4" fill="#9ccc3c"/><rect x="478.5" y="134.9" width="4" height="4" fill="#9ccc3c"/><rect x="481" y="130.3" width="4" height="4" fill="#9ccc3c"/><rect x="483.6" y="130.3" width="4" height="4" fill="#9ccc3c"/><rect x="486.1" y="130.3" width="4" height="4" fill="#9ccc3c"/><rect x="488.6" y="130.3" width="4" height="4" fill="#9ccc3c"/><rect x="491.2" y="130.3" width="4" height="4" fill="#9ccc3c"/><rect x="493.7" y="130.3" width="4" height="4" fill="#9ccc3c"/><rect x="496.3" y="138.5" width="4" height="4" fill="#9ccc3c"/><rect x="498.8" y="138.5" width="4" height="4" fill="#9ccc3c"/><rect x="501.3" y="138.5" width="4" height="4" fill="#9ccc3c"/><rect x="503.9" y="138.5" width="4" height="4" fill="#9ccc3c"/><rect x="506.4" y="138.5" width="4" height="4" fill="#9ccc3c"/><rect x="508.9" y="138.5" width="4" height="4" fill="#9ccc3c"/><rect x="511.5" y="140.3" width="4" height="4" fill="#9ccc3c"/><rect x="514" y="140.3" width="4" height="4" fill="#9ccc3c"/><rect x="516.5" y="144" width="4" height="4" fill="#9ccc3c"/><rect x="519.1" y="144" width="4" height="4" fill="#9ccc3c"/><rect x="521.6" y="143" width="4" height="4" fill="#9ccc3c"/><rect x="524.1" y="133" width="4" height="4" fill="#9ccc3c"/><rect x="526.7" y="133" width="4" height="4" fill="#9ccc3c"/><rect x="559.6" y="133.8" width="4" height="4" fill="#9ccc3c"/><rect x="562.1" y="133.8" width="4" height="4" fill="#9ccc3c"/><rect x="564.7" y="133.8" width="4" height="4" fill="#9ccc3c"/><rect x="567.2" y="133.8" width="4" height="4" fill="#9ccc3c"/><rect x="569.7" y="133.8" width="4" height="4" fill="#9ccc3c"/><rect x="572.3" y="133.8" width="4" height="4" fill="#9ccc3c"/><rect x="574.8" y="133.8" width="4" height="4" fill="#9ccc3c"/><rect x="577.3" y="133.8" width="4" height="4" fill="#9ccc3c"/><rect x="579.9" y="133.8" width="4" height="4" fill="#9ccc3c"/><rect x="582.4" y="133.8" width="4" height="4" fill="#9ccc3c"/><rect x="584.9" y="133.8" width="4" height="4" fill="#9ccc3c"/><rect x="587.5" y="133.8" width="4" height="4" fill="#9ccc3c"/><rect x="590" y="133.8" width="4" height="4" fill="#9ccc3c"/><rect x="592.5" y="133.8" width="4" height="4" fill="#9ccc3c"/><rect x="595.1" y="133.8" width="4" height="4" fill="#9ccc3c"/><rect x="597.6" y="133.8" width="4" height="4" fill="#9ccc3c"/><rect x="600.1" y="133.8" width="4" height="4" fill="#9ccc3c"/><rect x="602.7" y="133.8" width="4" height="4" fill="#9ccc3c"/><rect x="605.2" y="131.3" width="4" height="4" fill="#9ccc3c"/><rect x="607.7" y="131.3" width="4" height="4" fill="#9ccc3c"/><rect x="610.3" y="131.3" width="4" height="4" fill="#9ccc3c"/><rect x="612.8" y="131.3" width="4" height="4" fill="#9ccc3c"/><rect x="615.4" y="131.3" width="4" height="4" fill="#9ccc3c"/><rect x="617.9" y="131.3" width="4" height="4" fill="#9ccc3c"/><rect x="620.4" y="131.5" width="4" height="4" fill="#9ccc3c"/><rect x="623" y="132.3" width="4" height="4" fill="#9ccc3c"/><rect x="625.5" y="133.2" width="4" height="4" fill="#9ccc3c"/><rect x="628" y="134" width="4" height="4" fill="#9ccc3c"/><rect x="630.6" y="134.8" width="4" height="4" fill="#9ccc3c"/><rect x="633.1" y="135.7" width="4" height="4" fill="#9ccc3c"/><rect x="635.6" y="136.5" width="4" height="4" fill="#9ccc3c"/><rect x="655.9" y="130.5" width="4" height="4" fill="#9ccc3c"/><rect x="658.4" y="130.5" width="4" height="4" fill="#9ccc3c"/><rect x="661" y="130.5" width="4" height="4" fill="#9ccc3c"/><rect x="663.5" y="130.5" width="4" height="4" fill="#9ccc3c"/><rect x="666" y="130.5" width="4" height="4" fill="#9ccc3c"/><rect x="668.6" y="130.5" width="4" height="4" fill="#9ccc3c"/><rect x="671.1" y="130.5" width="4" height="4" fill="#9ccc3c"/><rect x="673.6" y="130.5" width="4" height="4" fill="#9ccc3c"/><rect x="676.2" y="130.5" width="4" height="4" fill="#9ccc3c"/><rect x="533.8" y="91" width="4" height="4" fill="#9ccc3c"/><rect x="544.7" y="94.9" width="4" height="4" fill="#9ccc3c"/><rect x="537.3" y="102.9" width="4" height="4" fill="#9ccc3c"/><rect x="541.8" y="107.6" width="4" height="4" fill="#9ccc3c"/><rect x="528.8" y="144.9" width="4" height="4" fill="#9ccc3c"/><rect x="539.6" y="153" width="4" height="4" fill="#9ccc3c"/><rect x="545.5" y="150.5" width="4" height="4" fill="#9ccc3c"/><rect x="549.7" y="150.6" width="4" height="4" fill="#9ccc3c"/><rect x="553" y="150" width="4" height="4" fill="#9ccc3c"/><rect x="531" y="158" width="4" height="4" fill="#9ccc3c"/><rect x="557" y="137.3" width="4" height="4" fill="#9ccc3c"/><rect x="638.8" y="143" width="4" height="4" fill="#9ccc3c"/><rect x="640.3" y="139.3" width="4" height="4" fill="#9ccc3c"/><rect x="641.8" y="137" width="4" height="4" fill="#9ccc3c"/><rect x="644" y="134.8" width="4" height="4" fill="#9ccc3c"/><rect x="647" y="133.3" width="4" height="4" fill="#9ccc3c"/><rect x="650" y="131.8" width="4" height="4" fill="#9ccc3c"/><rect x="652.5" y="131" width="4" height="4" fill="#9ccc3c"/><rect x="635.6" y="103.3" width="4" height="4" fill="#9ccc3c"/>
</g>
<rect x="355" y="249" width="13.3" height="9.8" fill="#dba892"/>
<text x="370" y="258" font-size="12">Training set</text>
<circle cx="445.5" cy="253.7" r="2.7" fill="#d83a62"/>
<text x="454.3" y="258" font-size="12">Test set</text>
<rect x="507.2" y="251.7" width="4.2" height="4.2" fill="#8a78dc"/>
<text x="517.5" y="258" font-size="12">2011</text>
<rect x="554.6" y="251.9" width="4.2" height="4.2" fill="#e8b040"/>
<text x="565.5" y="258" font-size="12">1896</text>
<rect x="602.4" y="251.9" width="4.2" height="4.2" fill="#a8d858"/>
<text x="612.8" y="258" font-size="12">1933</text>
<rect x="303.0" y="18.5" width="377.5" height="244.0" fill="none" stroke="#333" stroke-width="1"/>
<path d="M351.3 18.5v-3.5M351.3 262.5v3.5M402 18.5v-3.5M402 262.5v3.5M452.6 18.5v-3.5M452.6 262.5v3.5M503.3 18.5v-3.5M503.3 262.5v3.5M554 18.5v-3.5M554 262.5v3.5M604.7 18.5v-3.5M604.7 262.5v3.5M655.4 18.5v-3.5M655.4 262.5v3.5M303.0 29.4h-3.5M680.5 29.4h3.5M303.0 81.4h-3.5M680.5 81.4h3.5M303.0 133.3h-3.5M680.5 133.3h3.5M303.0 185.2h-3.5M680.5 185.2h3.5M303.0 237.2h-3.5M680.5 237.2h3.5" stroke="#333" stroke-width="1" fill="none"/>
<text x="351.3" y="280.9" text-anchor="middle" font-size="13.5">20</text>
<text x="402" y="280.9" text-anchor="middle" font-size="13.5">40</text>
<text x="452.6" y="280.9" text-anchor="middle" font-size="13.5">60</text>
<text x="503.3" y="280.9" text-anchor="middle" font-size="13.5">80</text>
<text x="554" y="280.9" text-anchor="middle" font-size="13.5">100</text>
<text x="604.7" y="280.9" text-anchor="middle" font-size="13.5">120</text>
<text x="655.4" y="280.9" text-anchor="middle" font-size="13.5">140</text>
<text x="294.5" y="34.8" text-anchor="end" font-size="13.5">20</text>
<text x="294.5" y="86.8" text-anchor="end" font-size="13.5">10</text>
<text x="294.5" y="138.7" text-anchor="end" font-size="13.5">0</text>
<text x="294.5" y="190.7" text-anchor="end" font-size="13.5">−10</text>
<text x="294.5" y="242.6" text-anchor="end" font-size="13.5">−20</text>
<text x="492" y="298.6" text-anchor="middle" font-size="13.5">S-net station number</text>
<text transform="translate(263.2,140.6) rotate(-90)" text-anchor="middle" font-size="13.5">Maximum amplitude (m)</text>
<text x="491.5" y="10.4" text-anchor="middle" font-size="14" font-weight="bold">(b)</text>
<rect x="226.24" y="33.47" width="2.42" height="1.58" fill="#fff"/>
<rect x="229.83" y="33.47" width="2.24" height="1.58" fill="#fff"/>
<rect x="226.24" y="205.47" width="2.42" height="1.58" fill="#fff"/>
<rect x="229.83" y="205.47" width="2.24" height="1.58" fill="#fff"/>
<rect x="531.06" y="256.75" width="2.68" height="1.70" fill="#fff"/>
<rect x="535.04" y="256.75" width="2.49" height="1.70" fill="#fff"/>
<rect x="536.84" y="256.75" width="2.68" height="1.70" fill="#fff"/>
<rect x="540.82" y="256.75" width="2.49" height="1.70" fill="#fff"/>
<rect x="565.71" y="256.75" width="2.68" height="1.70" fill="#fff"/>
<rect x="569.70" y="256.75" width="2.49" height="1.70" fill="#fff"/>
<rect x="613.01" y="256.75" width="2.68" height="1.70" fill="#fff"/>
<rect x="617.00" y="256.75" width="2.49" height="1.70" fill="#fff"/>
<rect x="543.06" y="279.54" width="2.95" height="1.81" fill="#fff"/>
<rect x="547.44" y="279.54" width="2.74" height="1.81" fill="#fff"/>
<rect x="593.76" y="279.54" width="2.95" height="1.81" fill="#fff"/>
<rect x="598.14" y="279.54" width="2.74" height="1.81" fill="#fff"/>
<rect x="644.46" y="279.54" width="2.95" height="1.81" fill="#fff"/>
<rect x="648.84" y="279.54" width="2.74" height="1.81" fill="#fff"/>
<rect x="279.80" y="85.44" width="2.95" height="1.81" fill="#fff"/>
<rect x="284.18" y="85.44" width="2.74" height="1.81" fill="#fff"/>
<rect x="279.80" y="189.34" width="2.95" height="1.81" fill="#fff"/>
<rect x="284.18" y="189.34" width="2.74" height="1.81" fill="#fff"/>
</svg>
</body></html>
